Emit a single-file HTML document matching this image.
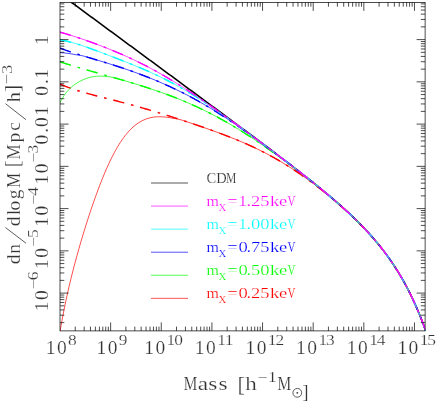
<!DOCTYPE html><html><head><meta charset="utf-8"><title>plot</title><style>html,body{margin:0;padding:0;background:#fff}svg{display:block}text{font-family:"Liberation Serif",serif;stroke:#fff;stroke-width:0.2px}</style></head><body>
<svg width="436" height="401" viewBox="0 0 436 401">
<rect width="436" height="401" fill="#fff"/>
<defs><mask id="m" maskUnits="userSpaceOnUse" x="0" y="0" width="436" height="401"><rect width="436" height="401" fill="#fff"/></mask><clipPath id="c"><rect x="60.0" y="2.4" width="365.10" height="328.50"/></clipPath></defs>
<g clip-path="url(#c)" fill="none" stroke-linejoin="round">
<path d="M56.00,-9.02 L57.00,-8.28 L58.00,-7.55 L59.00,-6.81 L60.00,-6.07 L61.00,-5.34 L62.00,-4.60 L63.00,-3.86 L64.00,-3.13 L65.00,-2.39 L66.00,-1.65 L67.00,-0.92 L68.00,-0.18 L69.00,0.56 L70.00,1.29 L71.00,2.03 L72.00,2.77 L73.00,3.50 L74.00,4.24 L75.00,4.98 L76.00,5.71 L77.00,6.45 L78.00,7.19 L79.00,7.92 L80.00,8.66 L81.00,9.40 L82.00,10.14 L83.00,10.87 L84.00,11.61 L85.00,12.35 L86.00,13.08 L87.00,13.82 L88.00,14.56 L89.00,15.29 L90.00,16.03 L91.00,16.77 L92.00,17.50 L93.00,18.24 L94.00,18.98 L95.00,19.71 L96.00,20.45 L97.00,21.19 L98.00,21.92 L99.00,22.66 L100.00,23.40 L101.00,24.14 L102.00,24.87 L103.00,25.61 L104.00,26.35 L105.00,27.08 L106.00,27.82 L107.00,28.56 L108.00,29.29 L109.00,30.03 L110.00,30.77 L111.00,31.50 L112.00,32.24 L113.00,32.98 L114.00,33.71 L115.00,34.45 L116.00,35.19 L117.00,35.93 L118.00,36.66 L119.00,37.40 L120.00,38.14 L121.00,38.87 L122.00,39.61 L123.00,40.35 L124.00,41.08 L125.00,41.82 L126.00,42.56 L127.00,43.30 L128.00,44.03 L129.00,44.77 L130.00,45.51 L131.00,46.24 L132.00,46.98 L133.00,47.72 L134.00,48.45 L135.00,49.19 L136.00,49.93 L137.00,50.67 L138.00,51.40 L139.00,52.14 L140.00,52.88 L141.00,53.61 L142.00,54.35 L143.00,55.09 L144.00,55.83 L145.00,56.56 L146.00,57.30 L147.00,58.04 L148.00,58.77 L149.00,59.51 L150.00,60.25 L151.00,60.99 L152.00,61.72 L153.00,62.46 L154.00,63.20 L155.00,63.93 L156.00,64.67 L157.00,65.41 L158.00,66.15 L159.00,66.88 L160.00,67.62 L161.00,68.36 L162.00,69.10 L163.00,69.83 L164.00,70.57 L165.00,71.31 L166.00,72.05 L167.00,72.78 L168.00,73.52 L169.00,74.26 L170.00,75.00 L171.00,75.73 L172.00,76.47 L173.00,77.21 L174.00,77.95 L175.00,78.68 L176.00,79.42 L177.00,80.16 L178.00,80.90 L179.00,81.63 L180.00,82.37 L181.00,83.11 L182.00,83.85 L183.00,84.59 L184.00,85.32 L185.00,86.06 L186.00,86.80 L187.00,87.54 L188.00,88.28 L189.00,89.01 L190.00,89.75 L191.00,90.49 L192.00,91.23 L193.00,91.97 L194.00,92.71 L195.00,93.44 L196.00,94.18 L197.00,94.92 L198.00,95.66 L199.00,96.40 L200.00,97.14 L201.00,97.88 L202.00,98.62 L203.00,99.35 L204.00,100.09 L205.00,100.83 L206.00,101.57 L207.00,102.31 L208.00,103.05 L209.00,103.79 L210.00,104.53 L211.00,105.27 L212.00,106.01 L213.00,106.75 L214.00,107.49 L215.00,108.23 L216.00,108.97 L217.00,109.71 L218.00,110.45 L219.00,111.19 L220.00,111.93 L221.00,112.67 L222.00,113.41 L223.00,114.15 L224.00,114.89 L225.00,115.63 L226.00,116.37 L227.00,117.12 L228.00,117.86 L229.00,118.60 L230.00,119.34 L231.00,120.08 L232.00,120.82 L233.00,121.57 L234.00,122.31 L235.00,123.05 L236.00,123.79 L237.00,124.54 L238.00,125.28 L239.00,126.02 L240.00,126.77 L241.00,127.51 L242.00,128.25 L243.00,129.00 L244.00,129.74 L245.00,130.49 L246.00,131.23 L247.00,131.98 L248.00,132.72 L249.00,133.47 L250.00,134.21 L251.00,134.96 L252.00,135.71 L253.00,136.45 L254.00,137.20 L255.00,137.95 L256.00,138.70 L257.00,139.45 L258.00,140.19 L259.00,140.94 L260.00,141.69 L261.00,142.44 L262.00,143.19 L263.00,143.94 L264.00,144.69 L265.00,145.44 L266.00,146.20 L267.00,146.95 L268.00,147.70 L269.00,148.45 L270.00,149.21 L271.00,149.96 L272.00,150.72 L273.00,151.47 L274.00,152.23 L275.00,152.99 L276.00,153.74 L277.00,154.50 L278.00,155.26 L279.00,156.02 L280.00,156.78 L281.00,157.54 L282.00,158.30 L283.00,159.06 L284.00,159.83 L285.00,160.59 L286.00,161.35 L287.00,162.12 L288.00,162.89 L289.00,163.65 L290.00,164.42 L291.00,165.19 L292.00,165.96 L293.00,166.73 L294.00,167.50 L295.00,168.28 L296.00,169.05 L297.00,169.83 L298.00,170.61 L299.00,171.38 L300.00,172.16 L301.00,172.94 L302.00,173.73 L303.00,174.51 L304.00,175.30 L305.00,176.08 L306.00,176.87 L307.00,177.66 L308.00,178.45 L309.00,179.25 L310.00,180.04 L311.00,180.84 L312.00,181.64 L313.00,182.44 L314.00,183.24 L315.00,184.04 L316.00,184.85 L317.00,185.66 L318.00,186.47 L319.00,187.28 L320.00,188.10 L321.00,188.92 L322.00,189.74 L323.00,190.56 L324.00,191.39 L325.00,192.22 L326.00,193.05 L327.00,193.89 L328.00,194.72 L329.00,195.57 L330.00,196.41 L331.00,197.26 L332.00,198.11 L333.00,198.96 L334.00,199.82 L335.00,200.69 L336.00,201.55 L337.00,202.42 L338.00,203.30 L339.00,204.18 L340.00,205.06 L341.00,205.95 L342.00,206.84 L343.00,207.74 L344.00,208.64 L345.00,209.55 L346.00,210.46 L347.00,211.38 L348.00,212.30 L349.00,213.23 L350.00,214.17 L351.00,215.11 L352.00,216.06 L353.00,217.01 L354.00,217.98 L355.00,218.95 L356.00,219.92 L357.00,220.91 L358.00,221.90 L359.00,222.90 L360.00,223.90 L361.00,224.92 L362.00,225.95 L363.00,226.98 L364.00,228.02 L365.00,229.08 L366.00,230.14 L367.00,231.21 L368.00,232.29 L369.00,233.39 L370.00,234.49 L371.00,235.61 L372.00,236.74 L373.00,237.88 L374.00,239.03 L375.00,240.20 L376.00,241.38 L377.00,242.57 L378.00,243.78 L379.00,245.01 L380.00,246.24 L381.00,247.50 L382.00,248.77 L383.00,250.05 L384.00,251.36 L385.00,252.68 L386.00,254.02 L387.00,255.38 L388.00,256.75 L389.00,258.15 L390.00,259.57 L391.00,261.01 L392.00,262.47 L393.00,263.96 L394.00,265.46 L395.00,267.00 L396.00,268.55 L397.00,270.13 L398.00,271.74 L399.00,273.38 L400.00,275.04 L401.00,276.74 L402.00,278.46 L403.00,280.21 L404.00,282.00 L405.00,283.81 L406.00,285.67 L407.00,287.55 L408.00,289.48 L409.00,291.43 L410.00,293.43 L411.00,295.47 L412.00,297.55 L413.00,299.67 L414.00,301.83 L415.00,304.04 L416.00,306.29 L417.00,308.59 L418.00,310.94 L419.00,313.34 L420.00,315.79 L421.00,318.29 L422.00,320.85 L423.00,323.47 L424.00,326.15 L425.00,328.88 L426.00,331.68 L427.00,334.55 L428.00,337.48" stroke="#000" stroke-width="1.55"/>
<path d="M56.00,357.63 L57.00,350.64 L58.00,344.01 L59.00,337.69 L60.00,331.66 L61.00,325.89 L62.00,320.36 L63.00,315.04 L64.00,309.93 L65.00,305.00 L66.00,300.23 L67.00,295.62 L68.00,291.14 L69.00,286.79 L70.00,282.56 L71.00,278.43 L72.00,274.41 L73.00,270.47 L74.00,266.61 L75.00,262.83 L76.00,259.12 L77.00,255.48 L78.00,251.90 L79.00,248.37 L80.00,244.90 L81.00,241.48 L82.00,238.11 L83.00,234.79 L84.00,231.51 L85.00,228.27 L86.00,225.07 L87.00,221.92 L88.00,218.81 L89.00,215.73 L90.00,212.70 L91.00,209.71 L92.00,206.75 L93.00,203.84 L94.00,200.97 L95.00,198.14 L96.00,195.35 L97.00,192.61 L98.00,189.90 L99.00,187.25 L100.00,184.63 L101.00,182.07 L102.00,179.55 L103.00,177.07 L104.00,174.65 L105.00,172.27 L106.00,169.95 L107.00,167.67 L108.00,165.45 L109.00,163.27 L110.00,161.15 L111.00,159.09 L112.00,157.07 L113.00,155.11 L114.00,153.20 L115.00,151.35 L116.00,149.55 L117.00,147.81 L118.00,146.12 L119.00,144.48 L120.00,142.90 L121.00,141.37 L122.00,139.90 L123.00,138.47 L124.00,137.11 L125.00,135.79 L126.00,134.53 L127.00,133.32 L128.00,132.16 L129.00,131.04 L130.00,129.98 L131.00,128.97 L132.00,128.01 L133.00,127.09 L134.00,126.22 L135.00,125.39 L136.00,124.61 L137.00,123.88 L138.00,123.18 L139.00,122.53 L140.00,121.92 L141.00,121.35 L142.00,120.82 L143.00,120.32 L144.00,119.87 L145.00,119.45 L146.00,119.06 L147.00,118.71 L148.00,118.39 L149.00,118.10 L150.00,117.84 L151.00,117.61 L152.00,117.41 L153.00,117.24 L154.00,117.10 L155.00,116.98 L156.00,116.89 L157.00,116.82 L158.00,116.78 L159.00,116.75 L160.00,116.75 L161.00,116.77 L162.00,116.81 L163.00,116.86 L164.00,116.94 L165.00,117.03 L166.00,117.14 L167.00,117.26 L168.00,117.40 L169.00,117.55 L170.00,117.72 L171.00,117.90 L172.00,118.09 L173.00,118.29 L174.00,118.39 L175.00,118.52 L176.00,118.68 L177.00,118.87 L178.00,119.08 L179.00,119.32 L180.00,119.57 L181.00,119.84 L182.00,120.16 L183.00,120.49 L184.00,120.82 L185.00,121.15 L186.00,121.48 L187.00,121.81 L188.00,122.14 L189.00,122.48 L190.00,122.81 L191.00,123.14 L192.00,123.48 L193.00,123.82 L194.00,124.15 L195.00,124.49 L196.00,124.83 L197.00,125.17 L198.00,125.51 L199.00,125.85 L200.00,126.20 L201.00,126.54 L202.00,126.89 L203.00,127.23 L204.00,127.58 L205.00,127.93 L206.00,128.28 L207.00,128.63 L208.00,128.98 L209.00,129.33 L210.00,129.69 L211.00,130.04 L212.00,130.40 L213.00,130.76 L214.00,131.12 L215.00,131.48 L216.00,131.84 L217.00,132.21 L218.00,132.57 L219.00,132.94 L220.00,133.31 L221.00,133.68 L222.00,134.06 L223.00,134.43 L224.00,134.81 L225.00,135.19 L226.00,135.57 L227.00,135.96 L228.00,136.34 L229.00,136.73 L230.00,137.12 L231.00,137.52 L232.00,137.91 L233.00,138.31 L234.00,138.71 L235.00,139.12 L236.00,139.53 L237.00,139.94 L238.00,140.35 L239.00,140.76 L240.00,141.18 L241.00,141.60 L242.00,142.03 L243.00,142.46 L244.00,142.89 L245.00,143.32 L246.00,143.76 L247.00,144.21 L248.00,144.65 L249.00,145.10 L250.00,145.55 L251.00,146.01 L252.00,146.47 L253.00,146.94 L254.00,147.41 L255.00,147.88 L256.00,148.36 L257.00,148.84 L258.00,149.33 L259.00,149.82 L260.00,150.31 L261.00,150.81 L262.00,151.31 L263.00,151.82 L264.00,152.33 L265.00,152.85 L266.00,153.37 L267.00,153.90 L268.00,154.43 L269.00,154.96 L270.00,155.50 L271.00,156.05 L272.00,156.60 L273.00,157.15 L274.00,157.71 L275.00,158.28 L276.00,158.85 L277.00,159.42 L278.00,160.00 L279.00,160.58 L280.00,161.17 L281.00,161.77 L282.00,162.37 L283.00,162.97 L284.00,163.58 L285.00,164.19 L286.00,164.81 L287.00,165.44 L288.00,166.07 L289.00,166.70 L290.00,167.34 L291.00,167.98 L292.00,168.63 L293.00,169.28 L294.00,169.94 L295.00,170.61 L296.00,171.27 L297.00,171.95 L298.00,172.62 L299.00,173.31 L300.00,173.99 L301.00,174.68 L302.00,175.38 L303.00,176.08 L304.00,176.79 L305.00,177.50 L306.00,178.21 L307.00,178.93 L308.00,179.66 L309.00,180.38 L310.00,181.12 L311.00,181.85 L312.00,182.60 L313.00,183.34 L314.00,184.09 L315.00,184.85 L316.00,185.61 L317.00,186.37 L318.00,187.14 L319.00,187.91 L320.00,188.69 L321.00,189.47 L322.00,190.26 L323.00,191.05 L324.00,191.84 L325.00,192.64 L326.00,193.45 L327.00,194.26 L328.00,195.07 L329.00,195.89 L330.00,196.71 L331.00,197.54 L332.00,198.37 L333.00,199.20 L334.00,200.05 L335.00,200.89 L336.00,201.74 L337.00,202.60 L338.00,203.46 L339.00,204.33 L340.00,205.20 L341.00,206.08 L342.00,206.96 L343.00,207.86 L344.00,208.75 L345.00,209.65 L346.00,210.56 L347.00,211.47 L348.00,212.39 L349.00,213.31 L350.00,214.24 L351.00,215.17 L352.00,216.11 L353.00,217.06 L354.00,218.02 L355.00,218.98 L356.00,219.95 L357.00,220.93 L358.00,221.91 L359.00,222.90 L360.00,223.90 L361.00,224.92 L362.00,225.95 L363.00,226.98 L364.00,228.02 L365.00,229.08 L366.00,230.14 L367.00,231.21 L368.00,232.29 L369.00,233.39 L370.00,234.49 L371.00,235.61 L372.00,236.74 L373.00,237.88 L374.00,239.03 L375.00,240.20 L376.00,241.38 L377.00,242.57 L378.00,243.78 L379.00,245.01 L380.00,246.24 L381.00,247.50 L382.00,248.77 L383.00,250.05 L384.00,251.36 L385.00,252.68 L386.00,254.02 L387.00,255.38 L388.00,256.75 L389.00,258.15 L390.00,259.57 L391.00,261.01 L392.00,262.47 L393.00,263.96 L394.00,265.46 L395.00,267.00 L396.00,268.55 L397.00,270.13 L398.00,271.74 L399.00,273.38 L400.00,275.04 L401.00,276.74 L402.00,278.46 L403.00,280.21 L404.00,282.00 L405.00,283.81 L406.00,285.67 L407.00,287.55 L408.00,289.48 L409.00,291.43 L410.00,293.43 L411.00,295.47 L412.00,297.55 L413.00,299.67 L414.00,301.83 L415.00,304.04 L416.00,306.29 L417.00,308.59 L418.00,310.94 L419.00,313.34 L420.00,315.79 L421.00,318.29 L422.00,320.85 L423.00,323.47 L424.00,326.15 L425.00,328.88 L426.00,331.68 L427.00,334.55 L428.00,337.48" stroke="#ff0000" stroke-width="0.7"/>
<path d="M60.00,84.10 L61.00,84.53 L62.00,84.96 L63.00,85.37 L64.00,85.78 L65.00,86.17 L66.00,86.56 L67.00,86.94 L68.00,87.32 L69.00,87.68 L70.00,88.04 L71.00,88.39 L72.00,88.74 L73.00,89.08 L74.00,89.41 L75.00,89.74 L76.00,90.06 L77.00,90.37 L78.00,90.69 L79.00,90.99 L80.00,91.30 L81.00,91.59 L82.00,91.89 L83.00,92.18 L84.00,92.47 L85.00,92.75 L86.00,93.03 L87.00,93.31 L88.00,93.58 L89.00,93.86 L90.00,94.13 L91.00,94.40 L92.00,94.66 L93.00,94.93 L94.00,95.19 L95.00,95.45 L96.00,95.71 L97.00,95.97 L98.00,96.23 L99.00,96.48 L100.00,96.74 L101.00,96.99 L102.00,97.25 L103.00,97.50 L104.00,97.75 L105.00,98.01 L106.00,98.26 L107.00,98.51 L108.00,98.77 L109.00,99.02 L110.00,99.27 L111.00,99.53 L112.00,99.78 L113.00,100.04 L114.00,100.29 L115.00,100.55 L116.00,100.80 L117.00,101.06 L118.00,101.32 L119.00,101.58 L120.00,101.84 L121.00,102.10 L122.00,102.36 L123.00,102.62 L124.00,102.89 L125.00,103.15 L126.00,103.42 L127.00,103.68 L128.00,103.95 L129.00,104.22 L130.00,104.49 L131.00,104.76 L132.00,105.03 L133.00,105.31 L134.00,105.58 L135.00,105.86 L136.00,106.14 L137.00,106.42 L138.00,106.70 L139.00,106.98 L140.00,107.26 L141.00,107.55 L142.00,107.83 L143.00,108.12 L144.00,108.40 L145.00,108.69 L146.00,108.98 L147.00,109.28 L148.00,109.57 L149.00,109.86 L150.00,110.16 L151.00,110.45 L152.00,110.75 L153.00,111.05 L154.00,111.35 L155.00,111.65 L156.00,111.95 L157.00,112.26 L158.00,112.56 L159.00,112.87 L160.00,113.17 L161.00,113.48 L162.00,113.79 L163.00,114.10 L164.00,114.41 L165.00,114.72 L166.00,115.04 L167.00,115.35 L168.00,115.66 L169.00,115.98 L170.00,116.30 L171.00,116.61 L172.00,116.93 L173.00,117.25 L174.00,117.57 L175.00,117.89 L176.00,118.21 L177.00,118.54 L178.00,118.86 L179.00,119.19 L180.00,119.51 L181.00,119.84 L182.00,120.16 L183.00,120.49 L184.00,120.82 L185.00,121.15 L186.00,121.48 L187.00,121.81 L188.00,122.14 L189.00,122.48 L190.00,122.81 L191.00,123.14 L192.00,123.48 L193.00,123.82 L194.00,124.15 L195.00,124.49 L196.00,124.83 L197.00,125.17 L198.00,125.51 L199.00,125.85 L200.00,126.20 L201.00,126.54 L202.00,126.89 L203.00,127.23 L204.00,127.58 L205.00,127.93 L206.00,128.28 L207.00,128.63 L208.00,128.98 L209.00,129.33 L210.00,129.69 L211.00,130.04 L212.00,130.40 L213.00,130.76 L214.00,131.12 L215.00,131.48 L216.00,131.84 L217.00,132.21 L218.00,132.57 L219.00,132.94 L220.00,133.31 L221.00,133.68 L222.00,134.06 L223.00,134.43 L224.00,134.81 L225.00,135.19 L226.00,135.57 L227.00,135.96 L228.00,136.34 L229.00,136.73 L230.00,137.12 L231.00,137.52 L232.00,137.91 L233.00,138.31 L234.00,138.71 L235.00,139.12 L236.00,139.53 L237.00,139.94 L238.00,140.35 L239.00,140.76 L240.00,141.18 L241.00,141.60 L242.00,142.03 L243.00,142.46 L244.00,142.89 L245.00,143.32 L246.00,143.76 L247.00,144.21 L248.00,144.65 L249.00,145.10 L250.00,145.55 L251.00,146.01 L252.00,146.47 L253.00,146.94 L254.00,147.41 L255.00,147.88 L256.00,148.36 L257.00,148.84 L258.00,149.33 L259.00,149.82 L260.00,150.31 L261.00,150.81 L262.00,151.31 L263.00,151.82 L264.00,152.33 L265.00,152.85 L266.00,153.37 L267.00,153.90 L268.00,154.43 L269.00,154.96 L270.00,155.50 L271.00,156.05 L272.00,156.60 L273.00,157.15 L274.00,157.71 L275.00,158.28 L276.00,158.85 L277.00,159.42 L278.00,160.00 L279.00,160.58 L280.00,161.17 L281.00,161.77 L282.00,162.37 L283.00,162.97 L284.00,163.58 L285.00,164.19 L286.00,164.81 L287.00,165.44 L288.00,166.07 L289.00,166.70 L290.00,167.34 L291.00,167.98 L292.00,168.63 L293.00,169.28 L294.00,169.94 L295.00,170.61 L296.00,171.27 L297.00,171.95 L298.00,172.62 L299.00,173.31 L300.00,173.99 L301.00,174.68 L302.00,175.38 L303.00,176.08 L304.00,176.79 L305.00,177.50 L306.00,178.21 L307.00,178.93 L308.00,179.66 L309.00,180.38 L310.00,181.12 L311.00,181.85 L312.00,182.60 L313.00,183.34 L314.00,184.09 L315.00,184.85 L316.00,185.61 L317.00,186.37 L318.00,187.14 L319.00,187.91 L320.00,188.69 L321.00,189.47 L322.00,190.26 L323.00,191.05 L324.00,191.84 L325.00,192.64 L326.00,193.45 L327.00,194.26 L328.00,195.07 L329.00,195.89 L330.00,196.71 L331.00,197.54 L332.00,198.37 L333.00,199.20 L334.00,200.05 L335.00,200.89 L336.00,201.74 L337.00,202.60 L338.00,203.46 L339.00,204.33 L340.00,205.20 L341.00,206.08 L342.00,206.96 L343.00,207.86 L344.00,208.75 L345.00,209.65 L346.00,210.56 L347.00,211.47 L348.00,212.39 L349.00,213.31 L350.00,214.24 L351.00,215.17 L352.00,216.11 L353.00,217.06 L354.00,218.02 L355.00,218.98 L356.00,219.95 L357.00,220.93 L358.00,221.91 L359.00,222.90 L360.00,223.90 L361.00,224.92 L362.00,225.95 L363.00,226.98 L364.00,228.02 L365.00,229.08 L366.00,230.14 L367.00,231.21 L368.00,232.29 L369.00,233.39 L370.00,234.49 L371.00,235.61 L372.00,236.74 L373.00,237.88 L374.00,239.03 L375.00,240.20 L376.00,241.38 L377.00,242.57 L378.00,243.78 L379.00,245.01 L380.00,246.24 L381.00,247.50 L382.00,248.77 L383.00,250.05 L384.00,251.36 L385.00,252.68 L386.00,254.02 L387.00,255.38 L388.00,256.75 L389.00,258.15 L390.00,259.57 L391.00,261.01 L392.00,262.47 L393.00,263.96 L394.00,265.46 L395.00,267.00 L396.00,268.55 L397.00,270.13 L398.00,271.74 L399.00,273.38 L400.00,275.04 L401.00,276.74 L402.00,278.46 L403.00,280.21 L404.00,282.00 L405.00,283.81 L406.00,285.67 L407.00,287.55 L408.00,289.48 L409.00,291.43 L410.00,293.43 L411.00,295.47 L412.00,297.55 L413.00,299.67 L414.00,301.83 L415.00,304.04 L416.00,306.29 L417.00,308.59 L418.00,310.94 L419.00,313.34 L420.00,315.79 L421.00,318.29 L422.00,320.85 L423.00,323.47 L424.00,326.15 L425.00,328.88 L426.00,331.68 L427.00,334.55 L428.00,337.48" stroke="#ff0000" stroke-width="1.45" stroke-dasharray="11.4 7.0 2.6 6.8"/>
<path d="M56.00,112.99 L57.00,110.05 L58.00,107.38 L59.00,104.96 L60.00,102.75 L61.00,100.74 L62.00,98.90 L63.00,97.20 L64.00,95.64 L65.00,94.21 L66.00,92.88 L67.00,91.65 L68.00,90.50 L69.00,89.44 L70.00,88.44 L71.00,87.51 L72.00,86.64 L73.00,85.82 L74.00,85.05 L75.00,84.32 L76.00,83.63 L77.00,82.99 L78.00,82.38 L79.00,81.80 L80.00,81.25 L81.00,80.74 L82.00,80.25 L83.00,79.80 L84.00,79.37 L85.00,78.97 L86.00,78.59 L87.00,78.25 L88.00,77.93 L89.00,77.63 L90.00,77.36 L91.00,77.12 L92.00,76.91 L93.00,76.72 L94.00,76.55 L95.00,76.42 L96.00,76.30 L97.00,76.22 L98.00,76.16 L99.00,76.12 L100.00,76.10 L101.00,76.11 L102.00,76.15 L103.00,76.20 L104.00,76.28 L105.00,76.37 L106.00,76.49 L107.00,76.62 L108.00,76.66 L109.00,76.75 L110.00,76.88 L111.00,77.05 L112.00,77.24 L113.00,77.45 L114.00,77.69 L115.00,77.94 L116.00,78.22 L117.00,78.51 L118.00,78.80 L119.00,79.09 L120.00,79.38 L121.00,79.67 L122.00,79.96 L123.00,80.25 L124.00,80.54 L125.00,80.84 L126.00,81.13 L127.00,81.43 L128.00,81.73 L129.00,82.02 L130.00,82.32 L131.00,82.62 L132.00,82.92 L133.00,83.23 L134.00,83.53 L135.00,83.83 L136.00,84.14 L137.00,84.45 L138.00,84.76 L139.00,85.07 L140.00,85.38 L141.00,85.69 L142.00,86.01 L143.00,86.33 L144.00,86.64 L145.00,86.96 L146.00,87.29 L147.00,87.61 L148.00,87.93 L149.00,88.26 L150.00,88.59 L151.00,88.92 L152.00,89.25 L153.00,89.59 L154.00,89.93 L155.00,90.27 L156.00,90.61 L157.00,90.95 L158.00,91.30 L159.00,91.64 L160.00,91.99 L161.00,92.35 L162.00,92.70 L163.00,93.06 L164.00,93.42 L165.00,93.78 L166.00,94.15 L167.00,94.51 L168.00,94.88 L169.00,95.26 L170.00,95.63 L171.00,96.01 L172.00,96.39 L173.00,96.77 L174.00,97.16 L175.00,97.55 L176.00,97.94 L177.00,98.34 L178.00,98.74 L179.00,99.14 L180.00,99.54 L181.00,99.95 L182.00,100.36 L183.00,100.77 L184.00,101.19 L185.00,101.61 L186.00,102.04 L187.00,102.46 L188.00,102.89 L189.00,103.33 L190.00,103.76 L191.00,104.20 L192.00,104.65 L193.00,105.09 L194.00,105.55 L195.00,106.00 L196.00,106.46 L197.00,106.92 L198.00,107.38 L199.00,107.85 L200.00,108.32 L201.00,108.80 L202.00,109.28 L203.00,109.76 L204.00,110.25 L205.00,110.74 L206.00,111.23 L207.00,111.73 L208.00,112.23 L209.00,112.74 L210.00,113.25 L211.00,113.76 L212.00,114.28 L213.00,114.80 L214.00,115.32 L215.00,115.85 L216.00,116.38 L217.00,116.92 L218.00,117.46 L219.00,118.00 L220.00,118.55 L221.00,119.10 L222.00,119.65 L223.00,120.21 L224.00,120.77 L225.00,121.34 L226.00,121.90 L227.00,122.48 L228.00,123.05 L229.00,123.63 L230.00,124.22 L231.00,124.80 L232.00,125.39 L233.00,125.99 L234.00,126.59 L235.00,127.19 L236.00,127.79 L237.00,128.40 L238.00,129.01 L239.00,129.63 L240.00,130.25 L241.00,130.87 L242.00,131.49 L243.00,132.12 L244.00,132.75 L245.00,133.39 L246.00,134.03 L247.00,134.67 L248.00,135.31 L249.00,135.96 L250.00,136.61 L251.00,137.26 L252.00,137.92 L253.00,138.58 L254.00,139.24 L255.00,139.91 L256.00,140.58 L257.00,141.25 L258.00,141.92 L259.00,142.60 L260.00,143.28 L261.00,143.96 L262.00,144.65 L263.00,145.33 L264.00,146.02 L265.00,146.72 L266.00,147.41 L267.00,148.11 L268.00,148.81 L269.00,149.51 L270.00,150.22 L271.00,150.92 L272.00,151.63 L273.00,152.34 L274.00,153.06 L275.00,153.77 L276.00,154.49 L277.00,155.21 L278.00,155.94 L279.00,156.66 L280.00,157.39 L281.00,158.12 L282.00,158.85 L283.00,159.58 L284.00,160.32 L285.00,161.06 L286.00,161.80 L287.00,162.54 L288.00,163.28 L289.00,164.03 L290.00,164.77 L291.00,165.52 L292.00,166.27 L293.00,167.03 L294.00,167.78 L295.00,168.54 L296.00,169.30 L297.00,170.06 L298.00,170.82 L299.00,171.59 L300.00,172.36 L301.00,173.13 L302.00,173.90 L303.00,174.67 L304.00,175.45 L305.00,176.23 L306.00,177.01 L307.00,177.79 L308.00,178.57 L309.00,179.35 L310.00,180.14 L311.00,180.92 L312.00,181.71 L313.00,182.50 L314.00,183.30 L315.00,184.09 L316.00,184.89 L317.00,185.69 L318.00,186.49 L319.00,187.29 L320.00,188.10 L321.00,188.92 L322.00,189.74 L323.00,190.56 L324.00,191.39 L325.00,192.22 L326.00,193.05 L327.00,193.89 L328.00,194.72 L329.00,195.57 L330.00,196.41 L331.00,197.26 L332.00,198.11 L333.00,198.96 L334.00,199.82 L335.00,200.69 L336.00,201.55 L337.00,202.42 L338.00,203.30 L339.00,204.18 L340.00,205.06 L341.00,205.95 L342.00,206.84 L343.00,207.74 L344.00,208.64 L345.00,209.55 L346.00,210.46 L347.00,211.38 L348.00,212.30 L349.00,213.23 L350.00,214.17 L351.00,215.11 L352.00,216.06 L353.00,217.01 L354.00,217.98 L355.00,218.95 L356.00,219.92 L357.00,220.91 L358.00,221.90 L359.00,222.90 L360.00,223.90 L361.00,224.92 L362.00,225.95 L363.00,226.98 L364.00,228.02 L365.00,229.08 L366.00,230.14 L367.00,231.21 L368.00,232.29 L369.00,233.39 L370.00,234.49 L371.00,235.61 L372.00,236.74 L373.00,237.88 L374.00,239.03 L375.00,240.20 L376.00,241.38 L377.00,242.57 L378.00,243.78 L379.00,245.01 L380.00,246.24 L381.00,247.50 L382.00,248.77 L383.00,250.05 L384.00,251.36 L385.00,252.68 L386.00,254.02 L387.00,255.38 L388.00,256.75 L389.00,258.15 L390.00,259.57 L391.00,261.01 L392.00,262.47 L393.00,263.96 L394.00,265.46 L395.00,267.00 L396.00,268.55 L397.00,270.13 L398.00,271.74 L399.00,273.38 L400.00,275.04 L401.00,276.74 L402.00,278.46 L403.00,280.21 L404.00,282.00 L405.00,283.81 L406.00,285.67 L407.00,287.55 L408.00,289.48 L409.00,291.43 L410.00,293.43 L411.00,295.47 L412.00,297.55 L413.00,299.67 L414.00,301.83 L415.00,304.04 L416.00,306.29 L417.00,308.59 L418.00,310.94 L419.00,313.34 L420.00,315.79 L421.00,318.29 L422.00,320.85 L423.00,323.47 L424.00,326.15 L425.00,328.88 L426.00,331.68 L427.00,334.55 L428.00,337.48" stroke="#00ff00" stroke-width="0.7"/>
<path d="M60.00,61.83 L61.00,62.16 L62.00,62.48 L63.00,62.79 L64.00,63.11 L65.00,63.43 L66.00,63.74 L67.00,64.05 L68.00,64.36 L69.00,64.66 L70.00,64.97 L71.00,65.27 L72.00,65.58 L73.00,65.88 L74.00,66.18 L75.00,66.48 L76.00,66.77 L77.00,67.07 L78.00,67.36 L79.00,67.66 L80.00,67.95 L81.00,68.24 L82.00,68.53 L83.00,68.82 L84.00,69.11 L85.00,69.40 L86.00,69.69 L87.00,69.98 L88.00,70.26 L89.00,70.55 L90.00,70.84 L91.00,71.12 L92.00,71.41 L93.00,71.69 L94.00,71.97 L95.00,72.26 L96.00,72.54 L97.00,72.82 L98.00,73.11 L99.00,73.39 L100.00,73.67 L101.00,73.96 L102.00,74.24 L103.00,74.52 L104.00,74.81 L105.00,75.09 L106.00,75.37 L107.00,75.66 L108.00,75.94 L109.00,76.22 L110.00,76.51 L111.00,76.79 L112.00,77.08 L113.00,77.36 L114.00,77.65 L115.00,77.94 L116.00,78.22 L117.00,78.51 L118.00,78.80 L119.00,79.09 L120.00,79.38 L121.00,79.67 L122.00,79.96 L123.00,80.25 L124.00,80.54 L125.00,80.84 L126.00,81.13 L127.00,81.43 L128.00,81.73 L129.00,82.02 L130.00,82.32 L131.00,82.62 L132.00,82.92 L133.00,83.23 L134.00,83.53 L135.00,83.83 L136.00,84.14 L137.00,84.45 L138.00,84.76 L139.00,85.07 L140.00,85.38 L141.00,85.69 L142.00,86.01 L143.00,86.33 L144.00,86.64 L145.00,86.96 L146.00,87.29 L147.00,87.61 L148.00,87.93 L149.00,88.26 L150.00,88.59 L151.00,88.92 L152.00,89.25 L153.00,89.59 L154.00,89.93 L155.00,90.27 L156.00,90.61 L157.00,90.95 L158.00,91.30 L159.00,91.64 L160.00,91.99 L161.00,92.35 L162.00,92.70 L163.00,93.06 L164.00,93.42 L165.00,93.78 L166.00,94.15 L167.00,94.51 L168.00,94.88 L169.00,95.26 L170.00,95.63 L171.00,96.01 L172.00,96.39 L173.00,96.77 L174.00,97.16 L175.00,97.55 L176.00,97.94 L177.00,98.34 L178.00,98.74 L179.00,99.14 L180.00,99.54 L181.00,99.95 L182.00,100.36 L183.00,100.77 L184.00,101.19 L185.00,101.61 L186.00,102.04 L187.00,102.46 L188.00,102.89 L189.00,103.33 L190.00,103.76 L191.00,104.20 L192.00,104.65 L193.00,105.09 L194.00,105.55 L195.00,106.00 L196.00,106.46 L197.00,106.92 L198.00,107.38 L199.00,107.85 L200.00,108.32 L201.00,108.80 L202.00,109.28 L203.00,109.76 L204.00,110.25 L205.00,110.74 L206.00,111.23 L207.00,111.73 L208.00,112.23 L209.00,112.74 L210.00,113.25 L211.00,113.76 L212.00,114.28 L213.00,114.80 L214.00,115.32 L215.00,115.85 L216.00,116.38 L217.00,116.92 L218.00,117.46 L219.00,118.00 L220.00,118.55 L221.00,119.10 L222.00,119.65 L223.00,120.21 L224.00,120.77 L225.00,121.34 L226.00,121.90 L227.00,122.48 L228.00,123.05 L229.00,123.63 L230.00,124.22 L231.00,124.80 L232.00,125.39 L233.00,125.99 L234.00,126.59 L235.00,127.19 L236.00,127.79 L237.00,128.40 L238.00,129.01 L239.00,129.63 L240.00,130.25 L241.00,130.87 L242.00,131.49 L243.00,132.12 L244.00,132.75 L245.00,133.39 L246.00,134.03 L247.00,134.67 L248.00,135.31 L249.00,135.96 L250.00,136.61 L251.00,137.26 L252.00,137.92 L253.00,138.58 L254.00,139.24 L255.00,139.91 L256.00,140.58 L257.00,141.25 L258.00,141.92 L259.00,142.60 L260.00,143.28 L261.00,143.96 L262.00,144.65 L263.00,145.33 L264.00,146.02 L265.00,146.72 L266.00,147.41 L267.00,148.11 L268.00,148.81 L269.00,149.51 L270.00,150.22 L271.00,150.92 L272.00,151.63 L273.00,152.34 L274.00,153.06 L275.00,153.77 L276.00,154.49 L277.00,155.21 L278.00,155.94 L279.00,156.66 L280.00,157.39 L281.00,158.12 L282.00,158.85 L283.00,159.58 L284.00,160.32 L285.00,161.06 L286.00,161.80 L287.00,162.54 L288.00,163.28 L289.00,164.03 L290.00,164.77 L291.00,165.52 L292.00,166.27 L293.00,167.03 L294.00,167.78 L295.00,168.54 L296.00,169.30 L297.00,170.06 L298.00,170.82 L299.00,171.59 L300.00,172.36 L301.00,173.13 L302.00,173.90 L303.00,174.67 L304.00,175.45 L305.00,176.23 L306.00,177.01 L307.00,177.79 L308.00,178.57 L309.00,179.35 L310.00,180.14 L311.00,180.92 L312.00,181.71 L313.00,182.50 L314.00,183.30 L315.00,184.09 L316.00,184.89 L317.00,185.69 L318.00,186.49 L319.00,187.29 L320.00,188.10 L321.00,188.92 L322.00,189.74 L323.00,190.56 L324.00,191.39 L325.00,192.22 L326.00,193.05 L327.00,193.89 L328.00,194.72 L329.00,195.57 L330.00,196.41 L331.00,197.26 L332.00,198.11 L333.00,198.96 L334.00,199.82 L335.00,200.69 L336.00,201.55 L337.00,202.42 L338.00,203.30 L339.00,204.18 L340.00,205.06 L341.00,205.95 L342.00,206.84 L343.00,207.74 L344.00,208.64 L345.00,209.55 L346.00,210.46 L347.00,211.38 L348.00,212.30 L349.00,213.23 L350.00,214.17 L351.00,215.11 L352.00,216.06 L353.00,217.01 L354.00,217.98 L355.00,218.95 L356.00,219.92 L357.00,220.91 L358.00,221.90 L359.00,222.90 L360.00,223.90 L361.00,224.92 L362.00,225.95 L363.00,226.98 L364.00,228.02 L365.00,229.08 L366.00,230.14 L367.00,231.21 L368.00,232.29 L369.00,233.39 L370.00,234.49 L371.00,235.61 L372.00,236.74 L373.00,237.88 L374.00,239.03 L375.00,240.20 L376.00,241.38 L377.00,242.57 L378.00,243.78 L379.00,245.01 L380.00,246.24 L381.00,247.50 L382.00,248.77 L383.00,250.05 L384.00,251.36 L385.00,252.68 L386.00,254.02 L387.00,255.38 L388.00,256.75 L389.00,258.15 L390.00,259.57 L391.00,261.01 L392.00,262.47 L393.00,263.96 L394.00,265.46 L395.00,267.00 L396.00,268.55 L397.00,270.13 L398.00,271.74 L399.00,273.38 L400.00,275.04 L401.00,276.74 L402.00,278.46 L403.00,280.21 L404.00,282.00 L405.00,283.81 L406.00,285.67 L407.00,287.55 L408.00,289.48 L409.00,291.43 L410.00,293.43 L411.00,295.47 L412.00,297.55 L413.00,299.67 L414.00,301.83 L415.00,304.04 L416.00,306.29 L417.00,308.59 L418.00,310.94 L419.00,313.34 L420.00,315.79 L421.00,318.29 L422.00,320.85 L423.00,323.47 L424.00,326.15 L425.00,328.88 L426.00,331.68 L427.00,334.55 L428.00,337.48" stroke="#00ff00" stroke-width="1.45" stroke-dasharray="11.4 7.0 2.6 6.8"/>
<path d="M56.00,52.75 L57.00,52.72 L58.00,52.70 L59.00,52.71 L60.00,52.72 L61.00,52.76 L62.00,52.81 L63.00,52.87 L64.00,52.95 L65.00,53.04 L66.00,53.14 L67.00,53.26 L68.00,53.39 L69.00,53.52 L70.00,53.67 L71.00,53.83 L72.00,53.99 L73.00,54.17 L74.00,54.36 L75.00,54.55 L76.00,54.75 L77.00,54.87 L78.00,54.99 L79.00,55.13 L80.00,55.30 L81.00,55.49 L82.00,55.70 L83.00,55.93 L84.00,56.17 L85.00,56.46 L86.00,56.76 L87.00,57.06 L88.00,57.36 L89.00,57.66 L90.00,57.96 L91.00,58.25 L92.00,58.55 L93.00,58.85 L94.00,59.15 L95.00,59.44 L96.00,59.74 L97.00,60.04 L98.00,60.34 L99.00,60.64 L100.00,60.94 L101.00,61.24 L102.00,61.54 L103.00,61.84 L104.00,62.15 L105.00,62.45 L106.00,62.75 L107.00,63.06 L108.00,63.37 L109.00,63.68 L110.00,63.99 L111.00,64.30 L112.00,64.62 L113.00,64.93 L114.00,65.25 L115.00,65.57 L116.00,65.89 L117.00,66.21 L118.00,66.53 L119.00,66.86 L120.00,67.19 L121.00,67.52 L122.00,67.85 L123.00,68.18 L124.00,68.52 L125.00,68.85 L126.00,69.19 L127.00,69.54 L128.00,69.88 L129.00,70.23 L130.00,70.58 L131.00,70.93 L132.00,71.28 L133.00,71.64 L134.00,72.00 L135.00,72.36 L136.00,72.72 L137.00,73.08 L138.00,73.45 L139.00,73.82 L140.00,74.20 L141.00,74.57 L142.00,74.95 L143.00,75.33 L144.00,75.71 L145.00,76.10 L146.00,76.49 L147.00,76.88 L148.00,77.27 L149.00,77.67 L150.00,78.07 L151.00,78.47 L152.00,78.87 L153.00,79.28 L154.00,79.69 L155.00,80.11 L156.00,80.52 L157.00,80.94 L158.00,81.36 L159.00,81.79 L160.00,82.22 L161.00,82.65 L162.00,83.08 L163.00,83.52 L164.00,83.96 L165.00,84.40 L166.00,84.85 L167.00,85.30 L168.00,85.75 L169.00,86.21 L170.00,86.67 L171.00,87.13 L172.00,87.60 L173.00,88.07 L174.00,88.54 L175.00,89.02 L176.00,89.50 L177.00,89.98 L178.00,90.46 L179.00,90.95 L180.00,91.45 L181.00,91.94 L182.00,92.44 L183.00,92.95 L184.00,93.46 L185.00,93.97 L186.00,94.48 L187.00,95.00 L188.00,95.52 L189.00,96.05 L190.00,96.58 L191.00,97.11 L192.00,97.65 L193.00,98.19 L194.00,98.73 L195.00,99.28 L196.00,99.83 L197.00,100.38 L198.00,100.94 L199.00,101.51 L200.00,102.07 L201.00,102.64 L202.00,103.22 L203.00,103.79 L204.00,104.37 L205.00,104.96 L206.00,105.55 L207.00,106.14 L208.00,106.74 L209.00,107.34 L210.00,107.94 L211.00,108.55 L212.00,109.16 L213.00,109.77 L214.00,110.39 L215.00,111.01 L216.00,111.63 L217.00,112.26 L218.00,112.89 L219.00,113.53 L220.00,114.16 L221.00,114.81 L222.00,115.45 L223.00,116.10 L224.00,116.75 L225.00,117.40 L226.00,118.06 L227.00,118.72 L228.00,119.38 L229.00,120.05 L230.00,120.72 L231.00,121.39 L232.00,122.07 L233.00,122.75 L234.00,123.43 L235.00,124.11 L236.00,124.79 L237.00,125.48 L238.00,126.17 L239.00,126.87 L240.00,127.56 L241.00,128.26 L242.00,128.96 L243.00,129.66 L244.00,130.37 L245.00,131.07 L246.00,131.78 L247.00,132.49 L248.00,133.21 L249.00,133.92 L250.00,134.64 L251.00,135.36 L252.00,136.08 L253.00,136.80 L254.00,137.52 L255.00,138.25 L256.00,138.98 L257.00,139.71 L258.00,140.44 L259.00,141.17 L260.00,141.90 L261.00,142.63 L262.00,143.37 L263.00,144.11 L264.00,144.84 L265.00,145.58 L266.00,146.33 L267.00,147.07 L268.00,147.82 L269.00,148.57 L270.00,149.31 L271.00,150.06 L272.00,150.81 L273.00,151.56 L274.00,152.31 L275.00,153.06 L276.00,153.81 L277.00,154.56 L278.00,155.31 L279.00,156.06 L280.00,156.81 L281.00,157.57 L282.00,158.32 L283.00,159.08 L284.00,159.83 L285.00,160.59 L286.00,161.35 L287.00,162.12 L288.00,162.89 L289.00,163.65 L290.00,164.42 L291.00,165.19 L292.00,165.96 L293.00,166.73 L294.00,167.50 L295.00,168.28 L296.00,169.05 L297.00,169.83 L298.00,170.61 L299.00,171.38 L300.00,172.16 L301.00,172.94 L302.00,173.73 L303.00,174.51 L304.00,175.30 L305.00,176.08 L306.00,176.87 L307.00,177.66 L308.00,178.45 L309.00,179.25 L310.00,180.04 L311.00,180.84 L312.00,181.64 L313.00,182.44 L314.00,183.24 L315.00,184.04 L316.00,184.85 L317.00,185.66 L318.00,186.47 L319.00,187.28 L320.00,188.10 L321.00,188.92 L322.00,189.74 L323.00,190.56 L324.00,191.39 L325.00,192.22 L326.00,193.05 L327.00,193.89 L328.00,194.72 L329.00,195.57 L330.00,196.41 L331.00,197.26 L332.00,198.11 L333.00,198.96 L334.00,199.82 L335.00,200.69 L336.00,201.55 L337.00,202.42 L338.00,203.30 L339.00,204.18 L340.00,205.06 L341.00,205.95 L342.00,206.84 L343.00,207.74 L344.00,208.64 L345.00,209.55 L346.00,210.46 L347.00,211.38 L348.00,212.30 L349.00,213.23 L350.00,214.17 L351.00,215.11 L352.00,216.06 L353.00,217.01 L354.00,217.98 L355.00,218.95 L356.00,219.92 L357.00,220.91 L358.00,221.90 L359.00,222.90 L360.00,223.90 L361.00,224.92 L362.00,225.95 L363.00,226.98 L364.00,228.02 L365.00,229.08 L366.00,230.14 L367.00,231.21 L368.00,232.29 L369.00,233.39 L370.00,234.49 L371.00,235.61 L372.00,236.74 L373.00,237.88 L374.00,239.03 L375.00,240.20 L376.00,241.38 L377.00,242.57 L378.00,243.78 L379.00,245.01 L380.00,246.24 L381.00,247.50 L382.00,248.77 L383.00,250.05 L384.00,251.36 L385.00,252.68 L386.00,254.02 L387.00,255.38 L388.00,256.75 L389.00,258.15 L390.00,259.57 L391.00,261.01 L392.00,262.47 L393.00,263.96 L394.00,265.46 L395.00,267.00 L396.00,268.55 L397.00,270.13 L398.00,271.74 L399.00,273.38 L400.00,275.04 L401.00,276.74 L402.00,278.46 L403.00,280.21 L404.00,282.00 L405.00,283.81 L406.00,285.67 L407.00,287.55 L408.00,289.48 L409.00,291.43 L410.00,293.43 L411.00,295.47 L412.00,297.55 L413.00,299.67 L414.00,301.83 L415.00,304.04 L416.00,306.29 L417.00,308.59 L418.00,310.94 L419.00,313.34 L420.00,315.79 L421.00,318.29 L422.00,320.85 L423.00,323.47 L424.00,326.15 L425.00,328.88 L426.00,331.68 L427.00,334.55 L428.00,337.48" stroke="#0000ff" stroke-width="0.7"/>
<path d="M60.00,48.05 L61.00,48.44 L62.00,48.83 L63.00,49.21 L64.00,49.58 L65.00,49.94 L66.00,50.31 L67.00,50.66 L68.00,51.01 L69.00,51.36 L70.00,51.70 L71.00,52.04 L72.00,52.37 L73.00,52.70 L74.00,53.03 L75.00,53.35 L76.00,53.67 L77.00,53.99 L78.00,54.31 L79.00,54.62 L80.00,54.93 L81.00,55.24 L82.00,55.55 L83.00,55.85 L84.00,56.15 L85.00,56.46 L86.00,56.76 L87.00,57.06 L88.00,57.36 L89.00,57.66 L90.00,57.96 L91.00,58.25 L92.00,58.55 L93.00,58.85 L94.00,59.15 L95.00,59.44 L96.00,59.74 L97.00,60.04 L98.00,60.34 L99.00,60.64 L100.00,60.94 L101.00,61.24 L102.00,61.54 L103.00,61.84 L104.00,62.15 L105.00,62.45 L106.00,62.75 L107.00,63.06 L108.00,63.37 L109.00,63.68 L110.00,63.99 L111.00,64.30 L112.00,64.62 L113.00,64.93 L114.00,65.25 L115.00,65.57 L116.00,65.89 L117.00,66.21 L118.00,66.53 L119.00,66.86 L120.00,67.19 L121.00,67.52 L122.00,67.85 L123.00,68.18 L124.00,68.52 L125.00,68.85 L126.00,69.19 L127.00,69.54 L128.00,69.88 L129.00,70.23 L130.00,70.58 L131.00,70.93 L132.00,71.28 L133.00,71.64 L134.00,72.00 L135.00,72.36 L136.00,72.72 L137.00,73.08 L138.00,73.45 L139.00,73.82 L140.00,74.20 L141.00,74.57 L142.00,74.95 L143.00,75.33 L144.00,75.71 L145.00,76.10 L146.00,76.49 L147.00,76.88 L148.00,77.27 L149.00,77.67 L150.00,78.07 L151.00,78.47 L152.00,78.87 L153.00,79.28 L154.00,79.69 L155.00,80.11 L156.00,80.52 L157.00,80.94 L158.00,81.36 L159.00,81.79 L160.00,82.22 L161.00,82.65 L162.00,83.08 L163.00,83.52 L164.00,83.96 L165.00,84.40 L166.00,84.85 L167.00,85.30 L168.00,85.75 L169.00,86.21 L170.00,86.67 L171.00,87.13 L172.00,87.60 L173.00,88.07 L174.00,88.54 L175.00,89.02 L176.00,89.50 L177.00,89.98 L178.00,90.46 L179.00,90.95 L180.00,91.45 L181.00,91.94 L182.00,92.44 L183.00,92.95 L184.00,93.46 L185.00,93.97 L186.00,94.48 L187.00,95.00 L188.00,95.52 L189.00,96.05 L190.00,96.58 L191.00,97.11 L192.00,97.65 L193.00,98.19 L194.00,98.73 L195.00,99.28 L196.00,99.83 L197.00,100.38 L198.00,100.94 L199.00,101.51 L200.00,102.07 L201.00,102.64 L202.00,103.22 L203.00,103.79 L204.00,104.37 L205.00,104.96 L206.00,105.55 L207.00,106.14 L208.00,106.74 L209.00,107.34 L210.00,107.94 L211.00,108.55 L212.00,109.16 L213.00,109.77 L214.00,110.39 L215.00,111.01 L216.00,111.63 L217.00,112.26 L218.00,112.89 L219.00,113.53 L220.00,114.16 L221.00,114.81 L222.00,115.45 L223.00,116.10 L224.00,116.75 L225.00,117.40 L226.00,118.06 L227.00,118.72 L228.00,119.38 L229.00,120.05 L230.00,120.72 L231.00,121.39 L232.00,122.07 L233.00,122.75 L234.00,123.43 L235.00,124.11 L236.00,124.79 L237.00,125.48 L238.00,126.17 L239.00,126.87 L240.00,127.56 L241.00,128.26 L242.00,128.96 L243.00,129.66 L244.00,130.37 L245.00,131.07 L246.00,131.78 L247.00,132.49 L248.00,133.21 L249.00,133.92 L250.00,134.64 L251.00,135.36 L252.00,136.08 L253.00,136.80 L254.00,137.52 L255.00,138.25 L256.00,138.98 L257.00,139.71 L258.00,140.44 L259.00,141.17 L260.00,141.90 L261.00,142.63 L262.00,143.37 L263.00,144.11 L264.00,144.84 L265.00,145.58 L266.00,146.33 L267.00,147.07 L268.00,147.82 L269.00,148.57 L270.00,149.31 L271.00,150.06 L272.00,150.81 L273.00,151.56 L274.00,152.31 L275.00,153.06 L276.00,153.81 L277.00,154.56 L278.00,155.31 L279.00,156.06 L280.00,156.81 L281.00,157.57 L282.00,158.32 L283.00,159.08 L284.00,159.83 L285.00,160.59 L286.00,161.35 L287.00,162.12 L288.00,162.89 L289.00,163.65 L290.00,164.42 L291.00,165.19 L292.00,165.96 L293.00,166.73 L294.00,167.50 L295.00,168.28 L296.00,169.05 L297.00,169.83 L298.00,170.61 L299.00,171.38 L300.00,172.16 L301.00,172.94 L302.00,173.73 L303.00,174.51 L304.00,175.30 L305.00,176.08 L306.00,176.87 L307.00,177.66 L308.00,178.45 L309.00,179.25 L310.00,180.04 L311.00,180.84 L312.00,181.64 L313.00,182.44 L314.00,183.24 L315.00,184.04 L316.00,184.85 L317.00,185.66 L318.00,186.47 L319.00,187.28 L320.00,188.10 L321.00,188.92 L322.00,189.74 L323.00,190.56 L324.00,191.39 L325.00,192.22 L326.00,193.05 L327.00,193.89 L328.00,194.72 L329.00,195.57 L330.00,196.41 L331.00,197.26 L332.00,198.11 L333.00,198.96 L334.00,199.82 L335.00,200.69 L336.00,201.55 L337.00,202.42 L338.00,203.30 L339.00,204.18 L340.00,205.06 L341.00,205.95 L342.00,206.84 L343.00,207.74 L344.00,208.64 L345.00,209.55 L346.00,210.46 L347.00,211.38 L348.00,212.30 L349.00,213.23 L350.00,214.17 L351.00,215.11 L352.00,216.06 L353.00,217.01 L354.00,217.98 L355.00,218.95 L356.00,219.92 L357.00,220.91 L358.00,221.90 L359.00,222.90 L360.00,223.90 L361.00,224.92 L362.00,225.95 L363.00,226.98 L364.00,228.02 L365.00,229.08 L366.00,230.14 L367.00,231.21 L368.00,232.29 L369.00,233.39 L370.00,234.49 L371.00,235.61 L372.00,236.74 L373.00,237.88 L374.00,239.03 L375.00,240.20 L376.00,241.38 L377.00,242.57 L378.00,243.78 L379.00,245.01 L380.00,246.24 L381.00,247.50 L382.00,248.77 L383.00,250.05 L384.00,251.36 L385.00,252.68 L386.00,254.02 L387.00,255.38 L388.00,256.75 L389.00,258.15 L390.00,259.57 L391.00,261.01 L392.00,262.47 L393.00,263.96 L394.00,265.46 L395.00,267.00 L396.00,268.55 L397.00,270.13 L398.00,271.74 L399.00,273.38 L400.00,275.04 L401.00,276.74 L402.00,278.46 L403.00,280.21 L404.00,282.00 L405.00,283.81 L406.00,285.67 L407.00,287.55 L408.00,289.48 L409.00,291.43 L410.00,293.43 L411.00,295.47 L412.00,297.55 L413.00,299.67 L414.00,301.83 L415.00,304.04 L416.00,306.29 L417.00,308.59 L418.00,310.94 L419.00,313.34 L420.00,315.79 L421.00,318.29 L422.00,320.85 L423.00,323.47 L424.00,326.15 L425.00,328.88 L426.00,331.68 L427.00,334.55 L428.00,337.48" stroke="#0000ff" stroke-width="1.45" stroke-dasharray="11.4 7.0 2.6 6.8"/>
<path d="M56.00,39.54 L57.00,39.55 L58.00,39.59 L59.00,39.67 L60.00,39.82 L61.00,39.98 L62.00,40.15 L63.00,40.34 L64.00,40.54 L65.00,40.75 L66.00,40.97 L67.00,41.20 L68.00,41.44 L69.00,41.69 L70.00,41.95 L71.00,42.21 L72.00,42.49 L73.00,42.77 L74.00,43.06 L75.00,43.36 L76.00,43.66 L77.00,43.97 L78.00,44.28 L79.00,44.60 L80.00,44.92 L81.00,45.25 L82.00,45.58 L83.00,45.92 L84.00,46.26 L85.00,46.60 L86.00,46.95 L87.00,47.30 L88.00,47.65 L89.00,48.01 L90.00,48.36 L91.00,48.72 L92.00,49.09 L93.00,49.45 L94.00,49.82 L95.00,50.18 L96.00,50.55 L97.00,50.93 L98.00,51.30 L99.00,51.67 L100.00,52.05 L101.00,52.42 L102.00,52.80 L103.00,53.18 L104.00,53.55 L105.00,53.93 L106.00,54.31 L107.00,54.69 L108.00,55.07 L109.00,55.46 L110.00,55.84 L111.00,56.22 L112.00,56.61 L113.00,56.99 L114.00,57.38 L115.00,57.76 L116.00,58.15 L117.00,58.54 L118.00,58.92 L119.00,59.31 L120.00,59.70 L121.00,60.09 L122.00,60.48 L123.00,60.87 L124.00,61.27 L125.00,61.66 L126.00,62.06 L127.00,62.45 L128.00,62.85 L129.00,63.25 L130.00,63.65 L131.00,64.05 L132.00,64.46 L133.00,64.86 L134.00,65.27 L135.00,65.68 L136.00,66.09 L137.00,66.50 L138.00,66.92 L139.00,67.33 L140.00,67.75 L141.00,68.18 L142.00,68.60 L143.00,69.03 L144.00,69.46 L145.00,69.89 L146.00,70.32 L147.00,70.76 L148.00,71.20 L149.00,71.65 L150.00,72.09 L151.00,72.54 L152.00,73.00 L153.00,73.45 L154.00,73.91 L155.00,74.38 L156.00,74.85 L157.00,75.32 L158.00,75.79 L159.00,76.27 L160.00,76.75 L161.00,77.24 L162.00,77.73 L163.00,78.22 L164.00,78.72 L165.00,79.22 L166.00,79.73 L167.00,80.24 L168.00,80.76 L169.00,81.27 L170.00,81.80 L171.00,82.32 L172.00,82.86 L173.00,83.39 L174.00,83.93 L175.00,84.48 L176.00,85.02 L177.00,85.58 L178.00,86.13 L179.00,86.69 L180.00,87.26 L181.00,87.83 L182.00,88.40 L183.00,88.98 L184.00,89.56 L185.00,90.15 L186.00,90.74 L187.00,91.33 L188.00,91.93 L189.00,92.53 L190.00,93.14 L191.00,93.75 L192.00,94.36 L193.00,94.98 L194.00,95.60 L195.00,96.22 L196.00,96.85 L197.00,97.48 L198.00,98.11 L199.00,98.75 L200.00,99.39 L201.00,100.04 L202.00,100.69 L203.00,101.34 L204.00,101.99 L205.00,102.65 L206.00,103.31 L207.00,103.97 L208.00,104.64 L209.00,105.31 L210.00,105.98 L211.00,106.65 L212.00,107.33 L213.00,108.01 L214.00,108.69 L215.00,109.37 L216.00,110.06 L217.00,110.75 L218.00,111.44 L219.00,112.13 L220.00,112.83 L221.00,113.52 L222.00,114.22 L223.00,114.92 L224.00,115.62 L225.00,116.33 L226.00,117.03 L227.00,117.74 L228.00,118.45 L229.00,119.16 L230.00,119.88 L231.00,120.59 L232.00,121.30 L233.00,122.02 L234.00,122.74 L235.00,123.46 L236.00,124.18 L237.00,124.90 L238.00,125.63 L239.00,126.35 L240.00,127.08 L241.00,127.80 L242.00,128.53 L243.00,129.26 L244.00,129.99 L245.00,130.72 L246.00,131.45 L247.00,132.18 L248.00,132.92 L249.00,133.65 L250.00,134.39 L251.00,135.12 L252.00,135.86 L253.00,136.60 L254.00,137.34 L255.00,138.08 L256.00,138.82 L257.00,139.56 L258.00,140.30 L259.00,141.05 L260.00,141.79 L261.00,142.53 L262.00,143.28 L263.00,144.02 L264.00,144.76 L265.00,145.51 L266.00,146.25 L267.00,147.00 L268.00,147.75 L269.00,148.49 L270.00,149.24 L271.00,149.99 L272.00,150.74 L273.00,151.49 L274.00,152.24 L275.00,152.99 L276.00,153.74 L277.00,154.50 L278.00,155.26 L279.00,156.02 L280.00,156.78 L281.00,157.54 L282.00,158.30 L283.00,159.06 L284.00,159.83 L285.00,160.59 L286.00,161.35 L287.00,162.12 L288.00,162.89 L289.00,163.65 L290.00,164.42 L291.00,165.19 L292.00,165.96 L293.00,166.73 L294.00,167.50 L295.00,168.28 L296.00,169.05 L297.00,169.83 L298.00,170.61 L299.00,171.38 L300.00,172.16 L301.00,172.94 L302.00,173.73 L303.00,174.51 L304.00,175.30 L305.00,176.08 L306.00,176.87 L307.00,177.66 L308.00,178.45 L309.00,179.25 L310.00,180.04 L311.00,180.84 L312.00,181.64 L313.00,182.44 L314.00,183.24 L315.00,184.04 L316.00,184.85 L317.00,185.66 L318.00,186.47 L319.00,187.28 L320.00,188.10 L321.00,188.92 L322.00,189.74 L323.00,190.56 L324.00,191.39 L325.00,192.22 L326.00,193.05 L327.00,193.89 L328.00,194.72 L329.00,195.57 L330.00,196.41 L331.00,197.26 L332.00,198.11 L333.00,198.96 L334.00,199.82 L335.00,200.69 L336.00,201.55 L337.00,202.42 L338.00,203.30 L339.00,204.18 L340.00,205.06 L341.00,205.95 L342.00,206.84 L343.00,207.74 L344.00,208.64 L345.00,209.55 L346.00,210.46 L347.00,211.38 L348.00,212.30 L349.00,213.23 L350.00,214.17 L351.00,215.11 L352.00,216.06 L353.00,217.01 L354.00,217.98 L355.00,218.95 L356.00,219.92 L357.00,220.91 L358.00,221.90 L359.00,222.90 L360.00,223.90 L361.00,224.92 L362.00,225.95 L363.00,226.98 L364.00,228.02 L365.00,229.08 L366.00,230.14 L367.00,231.21 L368.00,232.29 L369.00,233.39 L370.00,234.49 L371.00,235.61 L372.00,236.74 L373.00,237.88 L374.00,239.03 L375.00,240.20 L376.00,241.38 L377.00,242.57 L378.00,243.78 L379.00,245.01 L380.00,246.24 L381.00,247.50 L382.00,248.77 L383.00,250.05 L384.00,251.36 L385.00,252.68 L386.00,254.02 L387.00,255.38 L388.00,256.75 L389.00,258.15 L390.00,259.57 L391.00,261.01 L392.00,262.47 L393.00,263.96 L394.00,265.46 L395.00,267.00 L396.00,268.55 L397.00,270.13 L398.00,271.74 L399.00,273.38 L400.00,275.04 L401.00,276.74 L402.00,278.46 L403.00,280.21 L404.00,282.00 L405.00,283.81 L406.00,285.67 L407.00,287.55 L408.00,289.48 L409.00,291.43 L410.00,293.43 L411.00,295.47 L412.00,297.55 L413.00,299.67 L414.00,301.83 L415.00,304.04 L416.00,306.29 L417.00,308.59 L418.00,310.94 L419.00,313.34 L420.00,315.79 L421.00,318.29 L422.00,320.85 L423.00,323.47 L424.00,326.15 L425.00,328.88 L426.00,331.68 L427.00,334.55 L428.00,337.48" stroke="#00ffff" stroke-width="0.7"/>
<path d="M60.00,39.82 L61.00,39.98 L62.00,40.15 L63.00,40.34 L64.00,40.54 L65.00,40.75 L66.00,40.97 L67.00,41.20 L68.00,41.44 L69.00,41.69 L70.00,41.95 L71.00,42.21 L72.00,42.49 L73.00,42.77 L74.00,43.06 L75.00,43.36 L76.00,43.66 L77.00,43.97 L78.00,44.28 L79.00,44.60 L80.00,44.92 L81.00,45.25 L82.00,45.58 L83.00,45.92 L84.00,46.26 L85.00,46.60 L86.00,46.95 L87.00,47.30 L88.00,47.65 L89.00,48.01 L90.00,48.36 L91.00,48.72 L92.00,49.09 L93.00,49.45 L94.00,49.82 L95.00,50.18 L96.00,50.55 L97.00,50.93 L98.00,51.30 L99.00,51.67 L100.00,52.05 L101.00,52.42 L102.00,52.80 L103.00,53.18 L104.00,53.55 L105.00,53.93 L106.00,54.31 L107.00,54.69 L108.00,55.07 L109.00,55.46 L110.00,55.84 L111.00,56.22 L112.00,56.61 L113.00,56.99 L114.00,57.38 L115.00,57.76 L116.00,58.15 L117.00,58.54 L118.00,58.92 L119.00,59.31 L120.00,59.70 L121.00,60.09 L122.00,60.48 L123.00,60.87 L124.00,61.27 L125.00,61.66 L126.00,62.06 L127.00,62.45 L128.00,62.85 L129.00,63.25 L130.00,63.65 L131.00,64.05 L132.00,64.46 L133.00,64.86 L134.00,65.27 L135.00,65.68 L136.00,66.09 L137.00,66.50 L138.00,66.92 L139.00,67.33 L140.00,67.75 L141.00,68.18 L142.00,68.60 L143.00,69.03 L144.00,69.46 L145.00,69.89 L146.00,70.32 L147.00,70.76 L148.00,71.20 L149.00,71.65 L150.00,72.09 L151.00,72.54 L152.00,73.00 L153.00,73.45 L154.00,73.91 L155.00,74.38 L156.00,74.85 L157.00,75.32 L158.00,75.79 L159.00,76.27 L160.00,76.75 L161.00,77.24 L162.00,77.73 L163.00,78.22 L164.00,78.72 L165.00,79.22 L166.00,79.73 L167.00,80.24 L168.00,80.76 L169.00,81.27 L170.00,81.80 L171.00,82.32 L172.00,82.86 L173.00,83.39 L174.00,83.93 L175.00,84.48 L176.00,85.02 L177.00,85.58 L178.00,86.13 L179.00,86.69 L180.00,87.26 L181.00,87.83 L182.00,88.40 L183.00,88.98 L184.00,89.56 L185.00,90.15 L186.00,90.74 L187.00,91.33 L188.00,91.93 L189.00,92.53 L190.00,93.14 L191.00,93.75 L192.00,94.36 L193.00,94.98 L194.00,95.60 L195.00,96.22 L196.00,96.85 L197.00,97.48 L198.00,98.11 L199.00,98.75 L200.00,99.39 L201.00,100.04 L202.00,100.69 L203.00,101.34 L204.00,101.99 L205.00,102.65 L206.00,103.31 L207.00,103.97 L208.00,104.64 L209.00,105.31 L210.00,105.98 L211.00,106.65 L212.00,107.33 L213.00,108.01 L214.00,108.69 L215.00,109.37 L216.00,110.06 L217.00,110.75 L218.00,111.44 L219.00,112.13 L220.00,112.83 L221.00,113.52 L222.00,114.22 L223.00,114.92 L224.00,115.62 L225.00,116.33 L226.00,117.03 L227.00,117.74 L228.00,118.45 L229.00,119.16 L230.00,119.88 L231.00,120.59 L232.00,121.30 L233.00,122.02 L234.00,122.74 L235.00,123.46 L236.00,124.18 L237.00,124.90 L238.00,125.63 L239.00,126.35 L240.00,127.08 L241.00,127.80 L242.00,128.53 L243.00,129.26 L244.00,129.99 L245.00,130.72 L246.00,131.45 L247.00,132.18 L248.00,132.92 L249.00,133.65 L250.00,134.39 L251.00,135.12 L252.00,135.86 L253.00,136.60 L254.00,137.34 L255.00,138.08 L256.00,138.82 L257.00,139.56 L258.00,140.30 L259.00,141.05 L260.00,141.79 L261.00,142.53 L262.00,143.28 L263.00,144.02 L264.00,144.76 L265.00,145.51 L266.00,146.25 L267.00,147.00 L268.00,147.75 L269.00,148.49 L270.00,149.24 L271.00,149.99 L272.00,150.74 L273.00,151.49 L274.00,152.24 L275.00,152.99 L276.00,153.74 L277.00,154.50 L278.00,155.26 L279.00,156.02 L280.00,156.78 L281.00,157.54 L282.00,158.30 L283.00,159.06 L284.00,159.83 L285.00,160.59 L286.00,161.35 L287.00,162.12 L288.00,162.89 L289.00,163.65 L290.00,164.42 L291.00,165.19 L292.00,165.96 L293.00,166.73 L294.00,167.50 L295.00,168.28 L296.00,169.05 L297.00,169.83 L298.00,170.61 L299.00,171.38 L300.00,172.16 L301.00,172.94 L302.00,173.73 L303.00,174.51 L304.00,175.30 L305.00,176.08 L306.00,176.87 L307.00,177.66 L308.00,178.45 L309.00,179.25 L310.00,180.04 L311.00,180.84 L312.00,181.64 L313.00,182.44 L314.00,183.24 L315.00,184.04 L316.00,184.85 L317.00,185.66 L318.00,186.47 L319.00,187.28 L320.00,188.10 L321.00,188.92 L322.00,189.74 L323.00,190.56 L324.00,191.39 L325.00,192.22 L326.00,193.05 L327.00,193.89 L328.00,194.72 L329.00,195.57 L330.00,196.41 L331.00,197.26 L332.00,198.11 L333.00,198.96 L334.00,199.82 L335.00,200.69 L336.00,201.55 L337.00,202.42 L338.00,203.30 L339.00,204.18 L340.00,205.06 L341.00,205.95 L342.00,206.84 L343.00,207.74 L344.00,208.64 L345.00,209.55 L346.00,210.46 L347.00,211.38 L348.00,212.30 L349.00,213.23 L350.00,214.17 L351.00,215.11 L352.00,216.06 L353.00,217.01 L354.00,217.98 L355.00,218.95 L356.00,219.92 L357.00,220.91 L358.00,221.90 L359.00,222.90 L360.00,223.90 L361.00,224.92 L362.00,225.95 L363.00,226.98 L364.00,228.02 L365.00,229.08 L366.00,230.14 L367.00,231.21 L368.00,232.29 L369.00,233.39 L370.00,234.49 L371.00,235.61 L372.00,236.74 L373.00,237.88 L374.00,239.03 L375.00,240.20 L376.00,241.38 L377.00,242.57 L378.00,243.78 L379.00,245.01 L380.00,246.24 L381.00,247.50 L382.00,248.77 L383.00,250.05 L384.00,251.36 L385.00,252.68 L386.00,254.02 L387.00,255.38 L388.00,256.75 L389.00,258.15 L390.00,259.57 L391.00,261.01 L392.00,262.47 L393.00,263.96 L394.00,265.46 L395.00,267.00 L396.00,268.55 L397.00,270.13 L398.00,271.74 L399.00,273.38 L400.00,275.04 L401.00,276.74 L402.00,278.46 L403.00,280.21 L404.00,282.00 L405.00,283.81 L406.00,285.67 L407.00,287.55 L408.00,289.48 L409.00,291.43 L410.00,293.43 L411.00,295.47 L412.00,297.55 L413.00,299.67 L414.00,301.83 L415.00,304.04 L416.00,306.29 L417.00,308.59 L418.00,310.94 L419.00,313.34 L420.00,315.79 L421.00,318.29 L422.00,320.85 L423.00,323.47 L424.00,326.15 L425.00,328.88 L426.00,331.68 L427.00,334.55 L428.00,337.48" stroke="#00ffff" stroke-width="1.45" stroke-dasharray="11.4 7.0 2.6 6.8"/>
<path d="M56.00,31.17 L57.00,31.42 L58.00,31.67 L59.00,31.94 L60.00,32.20 L61.00,32.47 L62.00,32.75 L63.00,33.03 L64.00,33.31 L65.00,33.60 L66.00,33.89 L67.00,34.19 L68.00,34.48 L69.00,34.79 L70.00,35.09 L71.00,35.40 L72.00,35.71 L73.00,36.03 L74.00,36.35 L75.00,36.67 L76.00,36.99 L77.00,37.32 L78.00,37.65 L79.00,37.98 L80.00,38.31 L81.00,38.65 L82.00,38.99 L83.00,39.33 L84.00,39.67 L85.00,40.02 L86.00,40.37 L87.00,40.72 L88.00,41.07 L89.00,41.43 L90.00,41.79 L91.00,42.15 L92.00,42.51 L93.00,42.87 L94.00,43.24 L95.00,43.61 L96.00,43.98 L97.00,44.35 L98.00,44.73 L99.00,45.10 L100.00,45.48 L101.00,45.87 L102.00,46.25 L103.00,46.64 L104.00,47.03 L105.00,47.42 L106.00,47.81 L107.00,48.21 L108.00,48.61 L109.00,49.01 L110.00,49.41 L111.00,49.82 L112.00,50.22 L113.00,50.64 L114.00,51.05 L115.00,51.47 L116.00,51.88 L117.00,52.31 L118.00,52.73 L119.00,53.16 L120.00,53.59 L121.00,54.02 L122.00,54.46 L123.00,54.89 L124.00,55.34 L125.00,55.78 L126.00,56.23 L127.00,56.68 L128.00,57.13 L129.00,57.59 L130.00,58.05 L131.00,58.51 L132.00,58.98 L133.00,59.45 L134.00,59.92 L135.00,60.40 L136.00,60.88 L137.00,61.36 L138.00,61.85 L139.00,62.34 L140.00,62.83 L141.00,63.33 L142.00,63.83 L143.00,64.33 L144.00,64.84 L145.00,65.35 L146.00,65.86 L147.00,66.38 L148.00,66.90 L149.00,67.42 L150.00,67.95 L151.00,68.48 L152.00,69.02 L153.00,69.56 L154.00,70.10 L155.00,70.65 L156.00,71.20 L157.00,71.75 L158.00,72.31 L159.00,72.87 L160.00,73.43 L161.00,74.00 L162.00,74.57 L163.00,75.14 L164.00,75.72 L165.00,76.30 L166.00,76.88 L167.00,77.47 L168.00,78.06 L169.00,78.66 L170.00,79.26 L171.00,79.86 L172.00,80.46 L173.00,81.07 L174.00,81.68 L175.00,82.29 L176.00,82.91 L177.00,83.53 L178.00,84.15 L179.00,84.78 L180.00,85.41 L181.00,86.04 L182.00,86.67 L183.00,87.31 L184.00,87.95 L185.00,88.60 L186.00,89.24 L187.00,89.89 L188.00,90.54 L189.00,91.20 L190.00,91.85 L191.00,92.51 L192.00,93.17 L193.00,93.84 L194.00,94.50 L195.00,95.17 L196.00,95.84 L197.00,96.51 L198.00,97.19 L199.00,97.87 L200.00,98.55 L201.00,99.23 L202.00,99.91 L203.00,100.60 L204.00,101.28 L205.00,101.97 L206.00,102.66 L207.00,103.36 L208.00,104.05 L209.00,104.75 L210.00,105.44 L211.00,106.14 L212.00,106.84 L213.00,107.55 L214.00,108.25 L215.00,108.96 L216.00,109.66 L217.00,110.37 L218.00,111.08 L219.00,111.79 L220.00,112.51 L221.00,113.22 L222.00,113.93 L223.00,114.65 L224.00,115.37 L225.00,116.09 L226.00,116.80 L227.00,117.53 L228.00,118.25 L229.00,118.97 L230.00,119.69 L231.00,120.42 L232.00,121.14 L233.00,121.87 L234.00,122.60 L235.00,123.32 L236.00,124.05 L237.00,124.78 L238.00,125.51 L239.00,126.24 L240.00,126.98 L241.00,127.71 L242.00,128.44 L243.00,129.18 L244.00,129.91 L245.00,130.65 L246.00,131.38 L247.00,132.12 L248.00,132.86 L249.00,133.60 L250.00,134.33 L251.00,135.08 L252.00,135.82 L253.00,136.56 L254.00,137.30 L255.00,138.04 L256.00,138.78 L257.00,139.52 L258.00,140.27 L259.00,141.01 L260.00,141.75 L261.00,142.50 L262.00,143.24 L263.00,143.98 L264.00,144.73 L265.00,145.47 L266.00,146.22 L267.00,146.97 L268.00,147.71 L269.00,148.46 L270.00,149.21 L271.00,149.96 L272.00,150.72 L273.00,151.47 L274.00,152.23 L275.00,152.99 L276.00,153.74 L277.00,154.50 L278.00,155.26 L279.00,156.02 L280.00,156.78 L281.00,157.54 L282.00,158.30 L283.00,159.06 L284.00,159.83 L285.00,160.59 L286.00,161.35 L287.00,162.12 L288.00,162.89 L289.00,163.65 L290.00,164.42 L291.00,165.19 L292.00,165.96 L293.00,166.73 L294.00,167.50 L295.00,168.28 L296.00,169.05 L297.00,169.83 L298.00,170.61 L299.00,171.38 L300.00,172.16 L301.00,172.94 L302.00,173.73 L303.00,174.51 L304.00,175.30 L305.00,176.08 L306.00,176.87 L307.00,177.66 L308.00,178.45 L309.00,179.25 L310.00,180.04 L311.00,180.84 L312.00,181.64 L313.00,182.44 L314.00,183.24 L315.00,184.04 L316.00,184.85 L317.00,185.66 L318.00,186.47 L319.00,187.28 L320.00,188.10 L321.00,188.92 L322.00,189.74 L323.00,190.56 L324.00,191.39 L325.00,192.22 L326.00,193.05 L327.00,193.89 L328.00,194.72 L329.00,195.57 L330.00,196.41 L331.00,197.26 L332.00,198.11 L333.00,198.96 L334.00,199.82 L335.00,200.69 L336.00,201.55 L337.00,202.42 L338.00,203.30 L339.00,204.18 L340.00,205.06 L341.00,205.95 L342.00,206.84 L343.00,207.74 L344.00,208.64 L345.00,209.55 L346.00,210.46 L347.00,211.38 L348.00,212.30 L349.00,213.23 L350.00,214.17 L351.00,215.11 L352.00,216.06 L353.00,217.01 L354.00,217.98 L355.00,218.95 L356.00,219.92 L357.00,220.91 L358.00,221.90 L359.00,222.90 L360.00,223.90 L361.00,224.92 L362.00,225.95 L363.00,226.98 L364.00,228.02 L365.00,229.08 L366.00,230.14 L367.00,231.21 L368.00,232.29 L369.00,233.39 L370.00,234.49 L371.00,235.61 L372.00,236.74 L373.00,237.88 L374.00,239.03 L375.00,240.20 L376.00,241.38 L377.00,242.57 L378.00,243.78 L379.00,245.01 L380.00,246.24 L381.00,247.50 L382.00,248.77 L383.00,250.05 L384.00,251.36 L385.00,252.68 L386.00,254.02 L387.00,255.38 L388.00,256.75 L389.00,258.15 L390.00,259.57 L391.00,261.01 L392.00,262.47 L393.00,263.96 L394.00,265.46 L395.00,267.00 L396.00,268.55 L397.00,270.13 L398.00,271.74 L399.00,273.38 L400.00,275.04 L401.00,276.74 L402.00,278.46 L403.00,280.21 L404.00,282.00 L405.00,283.81 L406.00,285.67 L407.00,287.55 L408.00,289.48 L409.00,291.43 L410.00,293.43 L411.00,295.47 L412.00,297.55 L413.00,299.67 L414.00,301.83 L415.00,304.04 L416.00,306.29 L417.00,308.59 L418.00,310.94 L419.00,313.34 L420.00,315.79 L421.00,318.29 L422.00,320.85 L423.00,323.47 L424.00,326.15 L425.00,328.88 L426.00,331.68 L427.00,334.55 L428.00,337.48" stroke="#ff00ff" stroke-width="0.7"/>
<path d="M60.00,32.20 L61.00,32.47 L62.00,32.75 L63.00,33.03 L64.00,33.31 L65.00,33.60 L66.00,33.89 L67.00,34.19 L68.00,34.48 L69.00,34.79 L70.00,35.09 L71.00,35.40 L72.00,35.71 L73.00,36.03 L74.00,36.35 L75.00,36.67 L76.00,36.99 L77.00,37.32 L78.00,37.65 L79.00,37.98 L80.00,38.31 L81.00,38.65 L82.00,38.99 L83.00,39.33 L84.00,39.67 L85.00,40.02 L86.00,40.37 L87.00,40.72 L88.00,41.07 L89.00,41.43 L90.00,41.79 L91.00,42.15 L92.00,42.51 L93.00,42.87 L94.00,43.24 L95.00,43.61 L96.00,43.98 L97.00,44.35 L98.00,44.73 L99.00,45.10 L100.00,45.48 L101.00,45.87 L102.00,46.25 L103.00,46.64 L104.00,47.03 L105.00,47.42 L106.00,47.81 L107.00,48.21 L108.00,48.61 L109.00,49.01 L110.00,49.41 L111.00,49.82 L112.00,50.22 L113.00,50.64 L114.00,51.05 L115.00,51.47 L116.00,51.88 L117.00,52.31 L118.00,52.73 L119.00,53.16 L120.00,53.59 L121.00,54.02 L122.00,54.46 L123.00,54.89 L124.00,55.34 L125.00,55.78 L126.00,56.23 L127.00,56.68 L128.00,57.13 L129.00,57.59 L130.00,58.05 L131.00,58.51 L132.00,58.98 L133.00,59.45 L134.00,59.92 L135.00,60.40 L136.00,60.88 L137.00,61.36 L138.00,61.85 L139.00,62.34 L140.00,62.83 L141.00,63.33 L142.00,63.83 L143.00,64.33 L144.00,64.84 L145.00,65.35 L146.00,65.86 L147.00,66.38 L148.00,66.90 L149.00,67.42 L150.00,67.95 L151.00,68.48 L152.00,69.02 L153.00,69.56 L154.00,70.10 L155.00,70.65 L156.00,71.20 L157.00,71.75 L158.00,72.31 L159.00,72.87 L160.00,73.43 L161.00,74.00 L162.00,74.57 L163.00,75.14 L164.00,75.72 L165.00,76.30 L166.00,76.88 L167.00,77.47 L168.00,78.06 L169.00,78.66 L170.00,79.26 L171.00,79.86 L172.00,80.46 L173.00,81.07 L174.00,81.68 L175.00,82.29 L176.00,82.91 L177.00,83.53 L178.00,84.15 L179.00,84.78 L180.00,85.41 L181.00,86.04 L182.00,86.67 L183.00,87.31 L184.00,87.95 L185.00,88.60 L186.00,89.24 L187.00,89.89 L188.00,90.54 L189.00,91.20 L190.00,91.85 L191.00,92.51 L192.00,93.17 L193.00,93.84 L194.00,94.50 L195.00,95.17 L196.00,95.84 L197.00,96.51 L198.00,97.19 L199.00,97.87 L200.00,98.55 L201.00,99.23 L202.00,99.91 L203.00,100.60 L204.00,101.28 L205.00,101.97 L206.00,102.66 L207.00,103.36 L208.00,104.05 L209.00,104.75 L210.00,105.44 L211.00,106.14 L212.00,106.84 L213.00,107.55 L214.00,108.25 L215.00,108.96 L216.00,109.66 L217.00,110.37 L218.00,111.08 L219.00,111.79 L220.00,112.51 L221.00,113.22 L222.00,113.93 L223.00,114.65 L224.00,115.37 L225.00,116.09 L226.00,116.80 L227.00,117.53 L228.00,118.25 L229.00,118.97 L230.00,119.69 L231.00,120.42 L232.00,121.14 L233.00,121.87 L234.00,122.60 L235.00,123.32 L236.00,124.05 L237.00,124.78 L238.00,125.51 L239.00,126.24 L240.00,126.98 L241.00,127.71 L242.00,128.44 L243.00,129.18 L244.00,129.91 L245.00,130.65 L246.00,131.38 L247.00,132.12 L248.00,132.86 L249.00,133.60 L250.00,134.33 L251.00,135.08 L252.00,135.82 L253.00,136.56 L254.00,137.30 L255.00,138.04 L256.00,138.78 L257.00,139.52 L258.00,140.27 L259.00,141.01 L260.00,141.75 L261.00,142.50 L262.00,143.24 L263.00,143.98 L264.00,144.73 L265.00,145.47 L266.00,146.22 L267.00,146.97 L268.00,147.71 L269.00,148.46 L270.00,149.21 L271.00,149.96 L272.00,150.72 L273.00,151.47 L274.00,152.23 L275.00,152.99 L276.00,153.74 L277.00,154.50 L278.00,155.26 L279.00,156.02 L280.00,156.78 L281.00,157.54 L282.00,158.30 L283.00,159.06 L284.00,159.83 L285.00,160.59 L286.00,161.35 L287.00,162.12 L288.00,162.89 L289.00,163.65 L290.00,164.42 L291.00,165.19 L292.00,165.96 L293.00,166.73 L294.00,167.50 L295.00,168.28 L296.00,169.05 L297.00,169.83 L298.00,170.61 L299.00,171.38 L300.00,172.16 L301.00,172.94 L302.00,173.73 L303.00,174.51 L304.00,175.30 L305.00,176.08 L306.00,176.87 L307.00,177.66 L308.00,178.45 L309.00,179.25 L310.00,180.04 L311.00,180.84 L312.00,181.64 L313.00,182.44 L314.00,183.24 L315.00,184.04 L316.00,184.85 L317.00,185.66 L318.00,186.47 L319.00,187.28 L320.00,188.10 L321.00,188.92 L322.00,189.74 L323.00,190.56 L324.00,191.39 L325.00,192.22 L326.00,193.05 L327.00,193.89 L328.00,194.72 L329.00,195.57 L330.00,196.41 L331.00,197.26 L332.00,198.11 L333.00,198.96 L334.00,199.82 L335.00,200.69 L336.00,201.55 L337.00,202.42 L338.00,203.30 L339.00,204.18 L340.00,205.06 L341.00,205.95 L342.00,206.84 L343.00,207.74 L344.00,208.64 L345.00,209.55 L346.00,210.46 L347.00,211.38 L348.00,212.30 L349.00,213.23 L350.00,214.17 L351.00,215.11 L352.00,216.06 L353.00,217.01 L354.00,217.98 L355.00,218.95 L356.00,219.92 L357.00,220.91 L358.00,221.90 L359.00,222.90 L360.00,223.90 L361.00,224.92 L362.00,225.95 L363.00,226.98 L364.00,228.02 L365.00,229.08 L366.00,230.14 L367.00,231.21 L368.00,232.29 L369.00,233.39 L370.00,234.49 L371.00,235.61 L372.00,236.74 L373.00,237.88 L374.00,239.03 L375.00,240.20 L376.00,241.38 L377.00,242.57 L378.00,243.78 L379.00,245.01 L380.00,246.24 L381.00,247.50 L382.00,248.77 L383.00,250.05 L384.00,251.36 L385.00,252.68 L386.00,254.02 L387.00,255.38 L388.00,256.75 L389.00,258.15 L390.00,259.57 L391.00,261.01 L392.00,262.47 L393.00,263.96 L394.00,265.46 L395.00,267.00 L396.00,268.55 L397.00,270.13 L398.00,271.74 L399.00,273.38 L400.00,275.04 L401.00,276.74 L402.00,278.46 L403.00,280.21 L404.00,282.00 L405.00,283.81 L406.00,285.67 L407.00,287.55 L408.00,289.48 L409.00,291.43 L410.00,293.43 L411.00,295.47 L412.00,297.55 L413.00,299.67 L414.00,301.83 L415.00,304.04 L416.00,306.29 L417.00,308.59 L418.00,310.94 L419.00,313.34 L420.00,315.79 L421.00,318.29 L422.00,320.85 L423.00,323.47 L424.00,326.15 L425.00,328.88 L426.00,331.68 L427.00,334.55 L428.00,337.48" stroke="#ff00ff" stroke-width="1.45" stroke-dasharray="11.4 7.0 2.6 6.8"/>
</g>
<g stroke="#000" stroke-width="0.7" fill="none">
<rect x="60.0" y="2.4" width="365.10" height="328.50"/>
<path d="M75.24,330.9v-4.3M75.24,2.4v4.3M84.16,330.9v-4.3M84.16,2.4v4.3M90.49,330.9v-4.3M90.49,2.4v4.3M95.40,330.9v-4.3M95.40,2.4v4.3M99.41,330.9v-4.3M99.41,2.4v4.3M102.80,330.9v-4.3M102.80,2.4v4.3M105.73,330.9v-4.3M105.73,2.4v4.3M108.32,330.9v-4.3M108.32,2.4v4.3M110.64,330.9v-8.5M110.64,2.4v8.5M125.88,330.9v-4.3M125.88,2.4v4.3M134.80,330.9v-4.3M134.80,2.4v4.3M141.13,330.9v-4.3M141.13,2.4v4.3M146.04,330.9v-4.3M146.04,2.4v4.3M150.05,330.9v-4.3M150.05,2.4v4.3M153.44,330.9v-4.3M153.44,2.4v4.3M156.37,330.9v-4.3M156.37,2.4v4.3M158.96,330.9v-4.3M158.96,2.4v4.3M161.28,330.9v-8.5M161.28,2.4v8.5M176.52,330.9v-4.3M176.52,2.4v4.3M185.44,330.9v-4.3M185.44,2.4v4.3M191.77,330.9v-4.3M191.77,2.4v4.3M196.68,330.9v-4.3M196.68,2.4v4.3M200.69,330.9v-4.3M200.69,2.4v4.3M204.08,330.9v-4.3M204.08,2.4v4.3M207.01,330.9v-4.3M207.01,2.4v4.3M209.60,330.9v-4.3M209.60,2.4v4.3M211.92,330.9v-8.5M211.92,2.4v8.5M227.16,330.9v-4.3M227.16,2.4v4.3M236.08,330.9v-4.3M236.08,2.4v4.3M242.41,330.9v-4.3M242.41,2.4v4.3M247.32,330.9v-4.3M247.32,2.4v4.3M251.33,330.9v-4.3M251.33,2.4v4.3M254.72,330.9v-4.3M254.72,2.4v4.3M257.65,330.9v-4.3M257.65,2.4v4.3M260.24,330.9v-4.3M260.24,2.4v4.3M262.56,330.9v-8.5M262.56,2.4v8.5M277.80,330.9v-4.3M277.80,2.4v4.3M286.72,330.9v-4.3M286.72,2.4v4.3M293.05,330.9v-4.3M293.05,2.4v4.3M297.96,330.9v-4.3M297.96,2.4v4.3M301.97,330.9v-4.3M301.97,2.4v4.3M305.36,330.9v-4.3M305.36,2.4v4.3M308.29,330.9v-4.3M308.29,2.4v4.3M310.88,330.9v-4.3M310.88,2.4v4.3M313.20,330.9v-8.5M313.20,2.4v8.5M328.44,330.9v-4.3M328.44,2.4v4.3M337.36,330.9v-4.3M337.36,2.4v4.3M343.69,330.9v-4.3M343.69,2.4v4.3M348.60,330.9v-4.3M348.60,2.4v4.3M352.61,330.9v-4.3M352.61,2.4v4.3M356.00,330.9v-4.3M356.00,2.4v4.3M358.93,330.9v-4.3M358.93,2.4v4.3M361.52,330.9v-4.3M361.52,2.4v4.3M363.84,330.9v-8.5M363.84,2.4v8.5M379.08,330.9v-4.3M379.08,2.4v4.3M388.00,330.9v-4.3M388.00,2.4v4.3M394.33,330.9v-4.3M394.33,2.4v4.3M399.24,330.9v-4.3M399.24,2.4v4.3M403.25,330.9v-4.3M403.25,2.4v4.3M406.64,330.9v-4.3M406.64,2.4v4.3M409.57,330.9v-4.3M409.57,2.4v4.3M412.16,330.9v-4.3M412.16,2.4v4.3M414.48,330.9v-8.5M414.48,2.4v8.5M60.0,322.63h4.3M425.1,322.63h-4.3M60.0,315.19h4.3M425.1,315.19h-4.3M60.0,309.91h4.3M425.1,309.91h-4.3M60.0,305.82h4.3M425.1,305.82h-4.3M60.0,302.47h4.3M425.1,302.47h-4.3M60.0,299.64h4.3M425.1,299.64h-4.3M60.0,297.19h4.3M425.1,297.19h-4.3M60.0,295.03h4.3M425.1,295.03h-4.3M60.0,293.10h8.5M425.1,293.10h-8.5M60.0,280.38h4.3M425.1,280.38h-4.3M60.0,272.94h4.3M425.1,272.94h-4.3M60.0,267.66h4.3M425.1,267.66h-4.3M60.0,263.57h4.3M425.1,263.57h-4.3M60.0,260.22h4.3M425.1,260.22h-4.3M60.0,257.39h4.3M425.1,257.39h-4.3M60.0,254.94h4.3M425.1,254.94h-4.3M60.0,252.78h4.3M425.1,252.78h-4.3M60.0,250.85h8.5M425.1,250.85h-8.5M60.0,238.13h4.3M425.1,238.13h-4.3M60.0,230.69h4.3M425.1,230.69h-4.3M60.0,225.41h4.3M425.1,225.41h-4.3M60.0,221.32h4.3M425.1,221.32h-4.3M60.0,217.97h4.3M425.1,217.97h-4.3M60.0,215.14h4.3M425.1,215.14h-4.3M60.0,212.69h4.3M425.1,212.69h-4.3M60.0,210.53h4.3M425.1,210.53h-4.3M60.0,208.60h8.5M425.1,208.60h-8.5M60.0,195.88h4.3M425.1,195.88h-4.3M60.0,188.44h4.3M425.1,188.44h-4.3M60.0,183.16h4.3M425.1,183.16h-4.3M60.0,179.07h4.3M425.1,179.07h-4.3M60.0,175.72h4.3M425.1,175.72h-4.3M60.0,172.89h4.3M425.1,172.89h-4.3M60.0,170.44h4.3M425.1,170.44h-4.3M60.0,168.28h4.3M425.1,168.28h-4.3M60.0,166.35h8.5M425.1,166.35h-8.5M60.0,153.63h4.3M425.1,153.63h-4.3M60.0,146.19h4.3M425.1,146.19h-4.3M60.0,140.91h4.3M425.1,140.91h-4.3M60.0,136.82h4.3M425.1,136.82h-4.3M60.0,133.47h4.3M425.1,133.47h-4.3M60.0,130.64h4.3M425.1,130.64h-4.3M60.0,128.19h4.3M425.1,128.19h-4.3M60.0,126.03h4.3M425.1,126.03h-4.3M60.0,124.10h8.5M425.1,124.10h-8.5M60.0,111.38h4.3M425.1,111.38h-4.3M60.0,103.94h4.3M425.1,103.94h-4.3M60.0,98.66h4.3M425.1,98.66h-4.3M60.0,94.57h4.3M425.1,94.57h-4.3M60.0,91.22h4.3M425.1,91.22h-4.3M60.0,88.39h4.3M425.1,88.39h-4.3M60.0,85.94h4.3M425.1,85.94h-4.3M60.0,83.78h4.3M425.1,83.78h-4.3M60.0,81.85h8.5M425.1,81.85h-8.5M60.0,69.13h4.3M425.1,69.13h-4.3M60.0,61.69h4.3M425.1,61.69h-4.3M60.0,56.41h4.3M425.1,56.41h-4.3M60.0,52.32h4.3M425.1,52.32h-4.3M60.0,48.97h4.3M425.1,48.97h-4.3M60.0,46.14h4.3M425.1,46.14h-4.3M60.0,43.69h4.3M425.1,43.69h-4.3M60.0,41.53h4.3M425.1,41.53h-4.3M60.0,39.60h8.5M425.1,39.60h-8.5M60.0,26.88h4.3M425.1,26.88h-4.3M60.0,19.44h4.3M425.1,19.44h-4.3M60.0,14.16h4.3M425.1,14.16h-4.3M60.0,10.07h4.3M425.1,10.07h-4.3M60.0,6.72h4.3M425.1,6.72h-4.3M60.0,3.89h4.3M425.1,3.89h-4.3"/>
</g>
<g mask="url(#m)"><g fill="#333">
<text font-size="19.5" x="45.80 57.10" y="354.20">10</text><text font-size="14.5" transform="scale(1.2,1)" x="56.67" y="344.60">8</text>
<text font-size="19.5" x="96.44 107.74" y="354.20">10</text><text font-size="14.5" transform="scale(1.2,1)" x="98.87" y="344.60">9</text>
<text font-size="19.5" x="144.18 155.38" y="354.20">10</text><text font-size="14.5" transform="scale(1.2,1)" x="138.82 145.15" y="344.60">10</text>
<text font-size="19.5" x="194.82 206.02" y="354.20">10</text><text font-size="14.5" transform="scale(1.2,1)" x="181.02 187.35" y="344.60">11</text>
<text font-size="19.5" x="245.46 256.66" y="354.20">10</text><text font-size="14.5" transform="scale(1.2,1)" x="223.22 229.55" y="344.60">12</text>
<text font-size="19.5" x="296.10 307.30" y="354.20">10</text><text font-size="14.5" transform="scale(1.2,1)" x="265.42 271.75" y="344.60">13</text>
<text font-size="19.5" x="346.74 357.94" y="354.20">10</text><text font-size="14.5" transform="scale(1.2,1)" x="307.62 313.95" y="344.60">14</text>
<text font-size="19.5" x="397.38 408.58" y="354.20">10</text><text font-size="14.5" transform="scale(1.2,1)" x="349.82 356.15" y="344.60">15</text>
<g transform="translate(47.6,44.9) rotate(-90)"><text font-size="19.5" x="0.00" y="0.00">1</text></g>
<g transform="translate(47.6,95.2) rotate(-90)"><text font-size="19.5" x="-0.50 11.10 16.50" y="0.00">0.1</text></g>
<g transform="translate(47.6,143.9) rotate(-90)"><text font-size="19.5" x="-0.50 11.10 16.80 28.10" y="0.00">0.01</text></g>
<g transform="translate(47.6,184.5) rotate(-90)"><text font-size="19.5" x="0.00 11.30" y="0.00">10</text><text font-size="14.5" transform="scale(1.2,1)" x="18.33 25.83" y="-9.30">−3</text></g>
<g transform="translate(47.6,226.8) rotate(-90)"><text font-size="19.5" x="0.00 11.30" y="0.00">10</text><text font-size="14.5" transform="scale(1.2,1)" x="18.33 25.83" y="-9.30">−4</text></g>
<g transform="translate(47.6,269.1) rotate(-90)"><text font-size="19.5" x="0.00 11.30" y="0.00">10</text><text font-size="14.5" transform="scale(1.2,1)" x="18.33 25.83" y="-9.30">−5</text></g>
<g transform="translate(47.6,311.3) rotate(-90)"><text font-size="19.5" x="0.00 11.30" y="0.00">10</text><text font-size="14.5" transform="scale(1.2,1)" x="18.33 25.83" y="-9.30">−6</text></g>
<text font-size="19.5" transform="scale(0.78,1)" x="235.51" y="390.40">M</text><text font-size="19.5" transform="scale(1.2,1)" x="164.83 173.58 182.00" y="390.40">ass</text>
<text font-size="22" x="237.40" y="390.90">[</text><text font-size="19.5" transform="scale(1.18,1)" x="207.80" y="390.40">h</text>
<text font-size="14.5" transform="scale(1.2,1)" x="214.67 223.33" y="382.40">−1</text>
<text font-size="19.5" transform="scale(0.79,1)" x="351.27" y="390.40">M</text>
<circle cx="297.3" cy="392.8" r="4.4" fill="none" stroke="#333" stroke-width="0.8"/><circle cx="297.3" cy="392.8" r="0.9"/>
<text font-size="18" x="302.40" y="398.00">]</text>
<g transform="translate(20.4,264.0) rotate(-90)"><text font-size="19.5" x="-0.30 10.20" y="0.00">dn</text><path d="M20.8,5.6L36.4,-14.9" stroke="#333" stroke-width="0.8" fill="none"/><text font-size="19.5" x="37.70 48.80 53.60 64.80" y="0.00">dlog</text><text font-size="19.5" transform="scale(0.88,1)" x="86.36" y="0.00">M</text><text font-size="22" x="96.60" y="-1.30">[</text><text font-size="19.5" transform="scale(0.88,1)" x="118.86" y="0.00">M</text><text font-size="19.5" x="121.40 133.20" y="0.00">pc</text><path d="M144.3,5.6L160.3,-14.9" stroke="#333" stroke-width="0.8" fill="none"/><text font-size="19.5" transform="scale(1.04,1)" x="155.58" y="0.00">h</text><text font-size="22" x="172.10" y="-1.30">]</text><text font-size="15.5" transform="scale(1.2,1)" x="149.83 158.33" y="-8.60">−3</text></g>
</g>
<path d="M151,183.00H188" stroke="#000" stroke-width="0.67" fill="none"/>
<text font-size="14.5" fill="#333" x="206.50 216.20" y="183.30">CD</text><text font-size="14.5" fill="#333" transform="scale(0.8,1)" x="282.62" y="183.30">M</text>
<path d="M151,206.07H188" stroke="#ff00ff" stroke-width="0.67" fill="none"/>
<g fill="#ff00ff"><text font-size="14.5" transform="scale(1.1,1)" x="187.73" y="206.30">m</text><text font-size="10.8" x="218.40" y="210.90">X</text><text font-size="14.5" transform="scale(1.28,1)" x="177.50" y="206.30">=</text><text font-size="14.5" transform="scale(1.28,1)" x="185.86 192.50 196.02 203.28 210.94 217.97" y="206.30">1.25ke</text><text font-size="14.5" transform="scale(0.76,1)" x="378.42" y="206.30">V</text></g>
<path d="M151,229.14H188" stroke="#00ffff" stroke-width="0.67" fill="none"/>
<g fill="#00ffff"><text font-size="14.5" transform="scale(1.1,1)" x="187.73" y="229.30">m</text><text font-size="10.8" x="218.40" y="233.90">X</text><text font-size="14.5" transform="scale(1.28,1)" x="177.50" y="229.30">=</text><text font-size="14.5" transform="scale(1.28,1)" x="185.86 192.50 196.02 203.28 210.94 217.97" y="229.30">1.00ke</text><text font-size="14.5" transform="scale(0.76,1)" x="378.42" y="229.30">V</text></g>
<path d="M151,252.21H188" stroke="#0000ff" stroke-width="0.67" fill="none"/>
<g fill="#0000ff"><text font-size="14.5" transform="scale(1.1,1)" x="187.73" y="252.30">m</text><text font-size="10.8" x="218.40" y="256.90">X</text><text font-size="14.5" transform="scale(1.28,1)" x="177.50" y="252.30">=</text><text font-size="14.5" transform="scale(1.28,1)" x="186.25 192.50 196.02 203.28 210.94 217.97" y="252.30">0.75ke</text><text font-size="14.5" transform="scale(0.76,1)" x="378.42" y="252.30">V</text></g>
<path d="M151,275.28H188" stroke="#00ff00" stroke-width="0.67" fill="none"/>
<g fill="#00ff00"><text font-size="14.5" transform="scale(1.1,1)" x="187.73" y="275.30">m</text><text font-size="10.8" x="218.40" y="279.90">X</text><text font-size="14.5" transform="scale(1.28,1)" x="177.50" y="275.30">=</text><text font-size="14.5" transform="scale(1.28,1)" x="186.25 192.50 196.02 203.28 210.94 217.97" y="275.30">0.50ke</text><text font-size="14.5" transform="scale(0.76,1)" x="378.42" y="275.30">V</text></g>
<path d="M151,298.35H188" stroke="#ff0000" stroke-width="0.67" fill="none"/>
<g fill="#ff0000"><text font-size="14.5" transform="scale(1.1,1)" x="187.73" y="298.30">m</text><text font-size="10.8" x="218.40" y="302.90">X</text><text font-size="14.5" transform="scale(1.28,1)" x="177.50" y="298.30">=</text><text font-size="14.5" transform="scale(1.28,1)" x="186.25 192.50 196.02 203.28 210.94 217.97" y="298.30">0.25ke</text><text font-size="14.5" transform="scale(0.76,1)" x="378.42" y="298.30">V</text></g>
</g></svg></body></html>
